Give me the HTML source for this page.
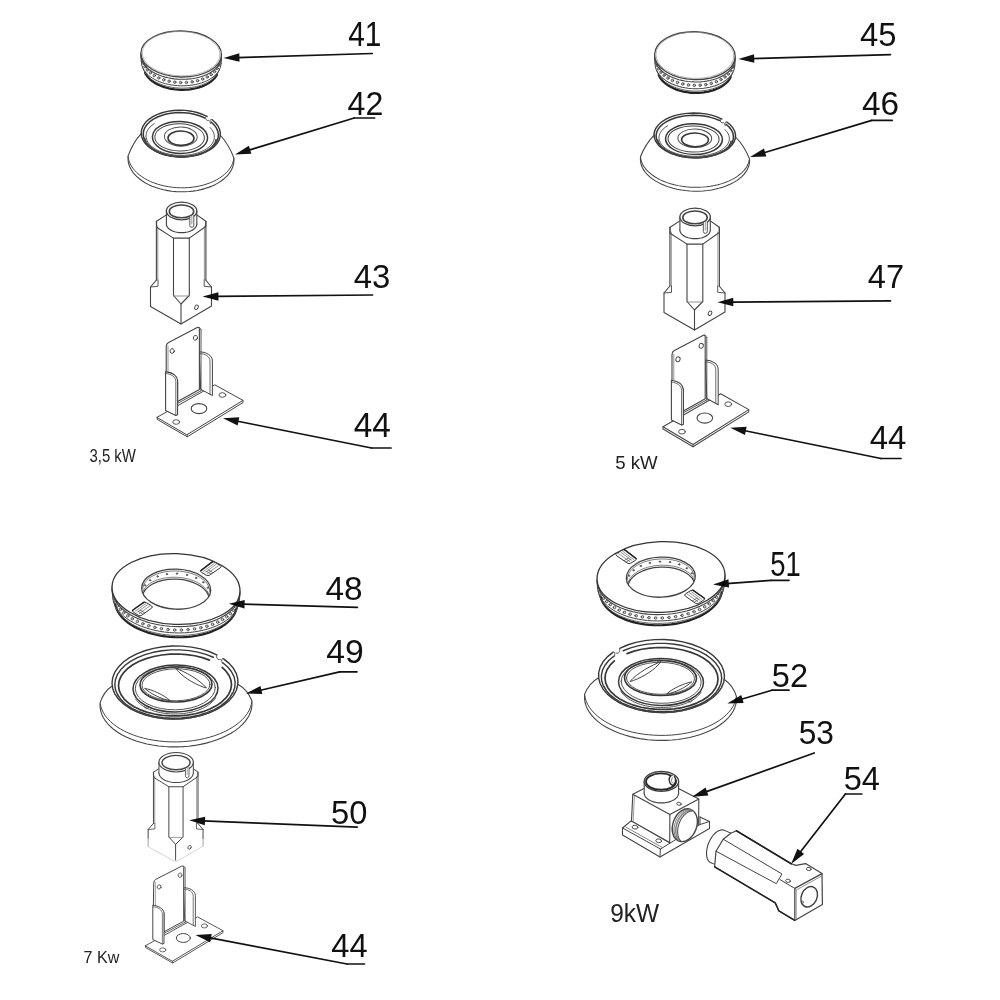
<!DOCTYPE html>
<html><head><meta charset="utf-8"><title>Burner parts 41-54</title>
<style>
html,body{margin:0;padding:0;background:#fff;}
body{width:1000px;height:1000px;overflow:hidden;}
svg{display:block;font-family:"Liberation Sans",sans-serif;}
</style></head><body>
<svg width="1000" height="1000" viewBox="0 0 1000 1000" stroke-linecap="round" stroke-linejoin="round">
<rect width="1000" height="1000" fill="#fff"/>
<g id="parts" style="filter:blur(0.45px)">
<path d="M217.07,74.59 L216.3,75.94 L215.37,77.25 L214.31,78.53 L213.1,79.76 L211.76,80.94 L210.3,82.06 L208.71,83.12 L207.01,84.11 L205.2,85.04 L203.29,85.89 L201.29,86.67 L199.21,87.37 L197.05,87.98 L194.82,88.51 L192.54,88.95 L190.21,89.3 L187.84,89.56 L185.45,89.73 L183.04,89.81 L180.62,89.79 L178.2,89.68 L175.79,89.48 L173.41,89.19 L171.06,88.8 L168.75,88.33 L166.5,87.77 L164.3,87.12 L162.18,86.4 L160.13,85.59 L158.17,84.71 L156.31,83.76 L154.55,82.74 L152.91,81.66 L151.38,80.51 L149.98,79.32 L148.7,78.07 L147.56,76.78 L146.56,75.45 L145.71,74.09 L145,72.7" fill="none" stroke="#222" stroke-width="2.2" />
<path d="M219,70.42 L218.4,71.94 L217.62,73.44 L216.66,74.9 L215.53,76.31 L214.23,77.67 L212.78,78.97 L211.16,80.2 L209.41,81.37 L207.51,82.45 L205.49,83.45 L203.34,84.37 L201.09,85.19 L198.75,85.92 L196.31,86.55 L193.81,87.07 L191.24,87.49 L188.62,87.81 L185.97,88.01 L183.29,88.11 L180.61,88.09 L177.93,87.97 L175.26,87.73 L172.62,87.39 L170.02,86.94 L167.48,86.39 L165.01,85.73 L162.61,84.97 L160.3,84.13 L158.1,83.19 L156.01,82.16 L154.04,81.05 L152.2,79.87 L150.51,78.62 L148.96,77.3 L147.57,75.92 L146.35,74.5 L145.29,73.03 L144.41,71.52 L143.71,69.99 L143.2,68.43" fill="none" stroke="#555" stroke-width="0.9" />
<path d="M220.99,63.64 L220.82,65.46 L220.4,67.26 L219.75,69.03 L218.85,70.76 L217.73,72.44 L216.37,74.06 L214.81,75.61 L213.03,77.07 L211.06,78.45 L208.9,79.74 L206.58,80.91 L204.09,81.98 L201.47,82.92 L198.72,83.74 L195.86,84.43 L192.92,84.98 L189.9,85.39 L186.82,85.67 L183.72,85.8 L180.59,85.79 L177.47,85.64 L174.38,85.34 L171.32,84.91 L168.33,84.34 L165.41,83.63 L162.6,82.79 L159.89,81.83 L157.32,80.75 L154.9,79.56 L152.64,78.26 L150.55,76.87 L148.66,75.39 L146.96,73.83 L145.47,72.2 L144.21,70.51 L143.17,68.78 L142.37,67 L141.81,65.2 L141.49,63.38 L141.41,61.56" fill="none" stroke="#444" stroke-width="1" />
<ellipse cx="218.82" cy="65.13" rx="1.25" ry="1.25" fill="#bbb" stroke="#444" stroke-width="0.8"/>
<ellipse cx="217.09" cy="68.47" rx="1.25" ry="1.25" fill="#bbb" stroke="#444" stroke-width="0.8"/>
<ellipse cx="214.54" cy="71.59" rx="1.25" ry="1.25" fill="#bbb" stroke="#444" stroke-width="0.8"/>
<ellipse cx="211.23" cy="74.44" rx="1.25" ry="1.25" fill="#bbb" stroke="#444" stroke-width="0.8"/>
<ellipse cx="207.24" cy="76.94" rx="1.25" ry="1.25" fill="#bbb" stroke="#444" stroke-width="0.8"/>
<ellipse cx="202.65" cy="79.03" rx="1.25" ry="1.25" fill="#bbb" stroke="#444" stroke-width="0.8"/>
<ellipse cx="197.57" cy="80.68" rx="1.25" ry="1.25" fill="#bbb" stroke="#444" stroke-width="0.8"/>
<ellipse cx="192.11" cy="81.84" rx="1.25" ry="1.25" fill="#bbb" stroke="#444" stroke-width="0.8"/>
<ellipse cx="186.41" cy="82.48" rx="1.25" ry="1.25" fill="#bbb" stroke="#444" stroke-width="0.8"/>
<ellipse cx="180.59" cy="82.59" rx="1.25" ry="1.25" fill="#bbb" stroke="#444" stroke-width="0.8"/>
<ellipse cx="174.78" cy="82.17" rx="1.25" ry="1.25" fill="#bbb" stroke="#444" stroke-width="0.8"/>
<ellipse cx="169.12" cy="81.23" rx="1.25" ry="1.25" fill="#bbb" stroke="#444" stroke-width="0.8"/>
<ellipse cx="163.74" cy="79.79" rx="1.25" ry="1.25" fill="#bbb" stroke="#444" stroke-width="0.8"/>
<ellipse cx="158.75" cy="77.88" rx="1.25" ry="1.25" fill="#bbb" stroke="#444" stroke-width="0.8"/>
<ellipse cx="154.28" cy="75.55" rx="1.25" ry="1.25" fill="#bbb" stroke="#444" stroke-width="0.8"/>
<ellipse cx="150.42" cy="72.84" rx="1.25" ry="1.25" fill="#bbb" stroke="#444" stroke-width="0.8"/>
<ellipse cx="147.26" cy="69.83" rx="1.25" ry="1.25" fill="#bbb" stroke="#444" stroke-width="0.8"/>
<ellipse cx="144.88" cy="66.58" rx="1.25" ry="1.25" fill="#bbb" stroke="#444" stroke-width="0.8"/>
<ellipse cx="143.33" cy="63.15" rx="1.25" ry="1.25" fill="#bbb" stroke="#444" stroke-width="0.8"/>
<line x1="140.91" y1="52.95" x2="141.31" y2="61.55" stroke="#444" stroke-width="1.1"/>
<line x1="221.49" y1="55.05" x2="221.09" y2="63.65" stroke="#444" stroke-width="1.1"/>
<path d="M221.49,57.05 L221.31,58.88 L220.89,60.69 L220.23,62.46 L219.33,64.2 L218.19,65.89 L216.82,67.51 L215.23,69.07 L213.43,70.54 L211.44,71.93 L209.26,73.22 L206.9,74.4 L204.39,75.46 L201.73,76.41 L198.95,77.23 L196.05,77.92 L193.07,78.48 L190.01,78.89 L186.9,79.17 L183.75,79.3 L180.59,79.29 L177.43,79.14 L174.3,78.84 L171.2,78.4 L168.17,77.83 L165.22,77.12 L162.37,76.27 L159.63,75.31 L157.03,74.22 L154.57,73.03 L152.28,71.72 L150.17,70.32 L148.25,68.84 L146.53,67.27 L145.03,65.63 L143.75,63.94 L142.7,62.19 L141.88,60.41 L141.31,58.6 L140.99,56.78 L140.91,54.95" fill="none" stroke="#444" stroke-width="1.1" />
<ellipse cx="181.2" cy="54" rx="40.3" ry="23" fill="#fff" stroke="#444" stroke-width="1.3" transform="rotate(1.5 181.2 54)"/>
<ellipse cx="181.2" cy="53.7" rx="39" ry="22.2" fill="none" stroke="#999" stroke-width="0.7" transform="rotate(1.5 181.2 53.7)"/>
<path d="M233.98,159.17 L233.9,161.79 L233.48,164.39 L232.73,166.95 L231.64,169.47 L230.22,171.92 L228.49,174.28 L226.45,176.55 L224.12,178.71 L221.51,180.75 L218.64,182.64 L215.53,184.38 L212.19,185.96 L208.66,187.37 L204.94,188.6 L201.08,189.64 L197.08,190.48 L192.98,191.12 L188.8,191.55 L184.57,191.78 L180.32,191.79 L176.07,191.6 L171.85,191.2 L167.7,190.59 L163.63,189.78 L159.67,188.77 L155.85,187.57 L152.19,186.19 L148.71,184.63 L145.45,182.91 L142.41,181.04 L139.62,179.03 L137.1,176.89 L134.86,174.64 L132.92,172.28 L131.29,169.84 L129.97,167.34 L128.99,164.78 L128.34,162.18 L128.04,159.57 L128.07,156.95" fill="none" stroke="#444" stroke-width="1.1" />
<path d="M233.81,158.58 L233.33,161 L232.56,163.39 L231.5,165.74 L230.16,168.02 L228.53,170.23 L226.64,172.36 L224.49,174.39 L222.1,176.31 L219.48,178.12 L216.64,179.79 L213.6,181.33 L210.37,182.72 L206.98,183.95 L203.45,185.03 L199.79,185.93 L196.02,186.66 L192.16,187.22 L188.25,187.59 L184.29,187.78 L180.32,187.79 L176.35,187.62 L172.4,187.26 L168.5,186.72 L164.68,186.01 L160.94,185.12 L157.32,184.06 L153.84,182.84 L150.5,181.47 L147.34,179.94 L144.36,178.28 L141.6,176.49 L139.05,174.58 L136.74,172.55 L134.68,170.43 L132.88,168.23 L131.35,165.95 L130.1,163.61 L129.14,161.23 L128.47,158.81 L128.09,156.37" fill="none" stroke="#444" stroke-width="1" />
<path d="M141.22,133.59 Q132.81,142.64 128.01,156.09" fill="none" stroke="#444" stroke-width="1.1" />
<path d="M220.35,135.25 Q228.97,144.58 233.99,158.31" fill="none" stroke="#444" stroke-width="1.1" />
<path d="M211.88,119.52 L215.25,122.53 L217.82,125.8 L219.52,129.25 L220.33,132.8 L220.21,136.36 L219.18,139.87 L217.26,143.23 L214.48,146.36 L210.93,149.2 L206.67,151.67 L201.81,153.72 L196.46,155.31 L190.74,156.39 L184.79,156.94 L178.76,156.94 L172.76,156.41 L166.96,155.34 L161.48,153.76 L156.45,151.72 L151.98,149.25 L148.19,146.42 L145.15,143.3 L142.94,139.94 L141.62,136.44 L141.21,132.87 L141.72,129.32 L143.13,125.87 L145.43,122.6 L148.55,119.58 L152.42,116.89 L156.95,114.59 L162.03,112.74 L167.56,111.36 L173.39,110.51 L179.39,110.19 L185.43,110.42 L191.35,111.19 L197.04,112.48 L202.34,114.26 L207.14,116.49" fill="none" stroke="#383838" stroke-width="1.4" />
<path d="M211.1,121.99 L214.1,124.85 L216.35,127.93 L217.78,131.16 L218.38,134.47 L218.12,137.78 L217.01,141.02 L215.08,144.11 L212.36,146.99 L208.93,149.58 L204.86,151.84 L200.25,153.7 L195.19,155.13 L189.8,156.09 L184.21,156.56 L178.54,156.53 L172.92,156.01 L167.48,154.99 L162.34,153.51 L157.63,151.61 L153.44,149.31 L149.87,146.68 L147.01,143.78 L144.92,140.67 L143.64,137.42 L143.21,134.1 L143.63,130.8 L144.9,127.58 L146.98,124.52 L149.84,121.69 L153.4,119.16 L157.58,116.98 L162.29,115.19 L167.42,113.85 L172.86,112.98 L178.47,112.61 L184.14,112.73 L189.74,113.35 L195.13,114.45 L200.19,116.02 L204.82,118" fill="none" stroke="#383838" stroke-width="1.5" />
<path d="M210.01,127.52 L211.66,129.41 L212.93,131.37 L213.81,133.4 L214.3,135.46 L214.38,137.53 L214.05,139.59 L213.32,141.61 L212.19,143.57 L210.69,145.44 L208.82,147.21 L206.62,148.85 L204.1,150.34 L201.29,151.66 L198.24,152.81 L194.97,153.75 L191.52,154.5 L187.94,155.02 L184.27,155.33 L180.55,155.41 L176.82,155.26 L173.14,154.89 L169.54,154.3 L166.06,153.5 L162.76,152.49 L159.66,151.3 L156.81,149.92 L154.23,148.39 L151.96,146.71 L150.03,144.91 L148.46,143.01 L147.26,141.03 L146.46,138.99 L146.05,136.93 L146.06,134.86 L146.47,132.8 L147.28,130.79 L148.48,128.85 L150.05,126.99 L151.99,125.25 L154.26,123.64" fill="none" stroke="#444" stroke-width="0.9" />
<path d="M216.02,139.84 L215.66,141.26 L215.11,142.66 L214.36,144.03 L213.43,145.36 L212.32,146.65 L211.03,147.89 L209.58,149.07 L207.96,150.19 L206.19,151.24 L204.28,152.21 L202.24,153.1 L200.08,153.9 L197.81,154.61 L195.44,155.23 L192.99,155.75 L190.48,156.17 L187.9,156.48 L185.29,156.69 L182.65,156.8 L179.99,156.8 L177.34,156.69 L174.71,156.47 L172.1,156.15 L169.55,155.73 L167.05,155.21 L164.62,154.58 L162.29,153.87 L160.05,153.06 L157.92,152.17 L155.92,151.19 L154.05,150.14 L152.33,149.02 L150.76,147.84 L149.35,146.6 L148.12,145.31 L147.06,143.97 L146.19,142.6 L145.5,141.2 L145.01,139.78 L144.71,138.34" fill="none" stroke="#444" stroke-width="1.7" />
<path d="M205.6,117.2 C205.2,119.4 206.6,121 208.6,120.4" fill="none" stroke="#444" stroke-width="0.9" />
<path d="M210.6,119.6 C209.4,121.2 209.6,122.6 210.6,123.6" fill="none" stroke="#444" stroke-width="0.9" />
<ellipse cx="180" cy="137.4" rx="27.6" ry="16" fill="none" stroke="#383838" stroke-width="1.5" transform="rotate(1.2 180 137.4)"/>
<ellipse cx="179.6" cy="137.4" rx="24.8" ry="13.6" fill="none" stroke="#444" stroke-width="1" transform="rotate(1.2 179.6 137.4)"/>
<ellipse cx="180.8" cy="136.6" rx="16.4" ry="9.6" fill="none" stroke="#555" stroke-width="1" transform="rotate(1.2 180.8 136.6)"/>
<ellipse cx="181" cy="138.2" rx="13" ry="7.2" fill="none" stroke="#383838" stroke-width="1.6" transform="rotate(1.2 181 138.2)"/>
<path d="M156.4,280 L150.5,287 L150.5,306.5 L181,324 L211.5,306 L211.5,287 L205.7,280" fill="none" stroke="#444" stroke-width="1.1" />
<path d="M150.5,287 L158,286.3 L158,280" fill="none" stroke="#444" stroke-width="0.9" />
<path d="M211.5,287 L204.2,286.3 L204.2,280" fill="none" stroke="#444" stroke-width="0.9" />
<line x1="181" y1="304" x2="181" y2="324" stroke="#444" stroke-width="1.1"/>
<ellipse cx="196.5" cy="307.3" rx="1.7" ry="2.3" fill="none" stroke="#444" stroke-width="0.9" transform="rotate(25 196.5 307.3)"/>
<path d="M173.5,238.1 L173.5,295.5 L181,304 L189.3,295.5 L189.3,238.1" fill="none" stroke="#444" stroke-width="1.1" />
<line x1="173.5" y1="296" x2="189.3" y2="296" stroke="#777" stroke-width="0.8"/>
<line x1="156.4" y1="221.3" x2="156.4" y2="280" stroke="#444" stroke-width="1.1"/>
<line x1="157.8" y1="226" x2="157.8" y2="280" stroke="#666" stroke-width="0.7"/>
<line x1="205.9" y1="221.3" x2="205.9" y2="280" stroke="#444" stroke-width="1.1"/>
<line x1="204.4" y1="226" x2="204.4" y2="280" stroke="#666" stroke-width="0.7"/>
<path d="M166.4,214.9 L156.6,221.3 L156.6,227.3 L173.5,238.1 L189.3,238.1 L205.8,226.5 L205.8,221.3 L196.8,214.9" fill="none" stroke="#444" stroke-width="1.1" />
<path d="M196.8,223.9 L196.75,224.59 L196.61,225.28 L196.38,225.95 L196.06,226.62 L195.64,227.27 L195.14,227.9 L194.56,228.5 L193.9,229.07 L193.16,229.62 L192.35,230.12 L191.47,230.59 L190.53,231.02 L189.54,231.4 L188.5,231.74 L187.42,232.03 L186.3,232.27 L185.15,232.46 L183.98,232.59 L182.79,232.67 L181.6,232.7 L180.41,232.67 L179.22,232.59 L178.05,232.46 L176.9,232.27 L175.78,232.03 L174.7,231.74 L173.66,231.4 L172.67,231.02 L171.73,230.59 L170.85,230.12 L170.04,229.62 L169.3,229.07 L168.64,228.5 L168.06,227.9 L167.56,227.27 L167.14,226.62 L166.82,225.95 L166.59,225.28 L166.45,224.59 L166.4,223.9" fill="#fff" stroke="#444" stroke-width="1.2" />
<rect x="166.4" y="211" width="30.4" height="13.1" fill="#fff" stroke="none"/>
<line x1="166.4" y1="211" x2="166.4" y2="223.9" stroke="#444" stroke-width="1.1"/>
<line x1="196.8" y1="211" x2="196.8" y2="223.9" stroke="#444" stroke-width="1.1"/>
<ellipse cx="181.6" cy="211" rx="15.2" ry="8.8" fill="#fff" stroke="#444" stroke-width="1.3"/>
<ellipse cx="181.5" cy="211.4" rx="12.2" ry="6.4" fill="none" stroke="#444" stroke-width="1.6"/>
<path d="M189.81,216.46 L189.81,225.56 A2,2 0 0 0 193.81,225.16 L193.81,215.56" fill="#fff" stroke="#444" stroke-width="0.9" />
<line x1="191.81" y1="216.16" x2="191.81" y2="223.96" stroke="#777" stroke-width="0.7"/>
<path d="M157.2,417.2 L214.8,384.8 L243,400.4 L187.2,434.6 Z" fill="#fff" stroke="#444" stroke-width="1" />
<path d="M157.2,417.2 L157.2,419.4 L187.2,436.8 L243,402.6 L243,400.4" fill="none" stroke="#444" stroke-width="1" />
<line x1="187.2" y1="434.6" x2="187.2" y2="436.8" stroke="#444" stroke-width="0.8"/>
<ellipse cx="199" cy="408.6" rx="7.8" ry="5" fill="none" stroke="#444" stroke-width="1.1"/>
<ellipse cx="222.4" cy="395" rx="3.4" ry="2.3" fill="none" stroke="#444" stroke-width="0.9"/>
<ellipse cx="176.2" cy="422" rx="3.4" ry="2.3" fill="none" stroke="#444" stroke-width="0.9"/>
<path d="M199.6,351.8 C206,352 212.4,355 212.4,361 L212.4,395.6 L201,389.4 Z" fill="#fff" stroke="#444" stroke-width="1" />
<path d="M200.2,353.6 C205,353.8 210,356 210,361.6 L210,394.2" fill="none" stroke="#444" stroke-width="0.8" />
<path d="M166.2,346.5 Q166.2,343.6 168.6,342.4 L197.2,327.6 Q199.4,326.6 199.4,329 L199.4,389.6 L177.6,401.6 L177.6,380 L166.2,372 Z" fill="#fff" stroke="#444" stroke-width="1.1" />
<line x1="201" y1="329.5" x2="201" y2="390.8" stroke="#444" stroke-width="0.9"/>
<line x1="199.4" y1="327.4" x2="201" y2="329.5" stroke="#444" stroke-width="0.8"/>
<line x1="177.6" y1="403.4" x2="201" y2="390.8" stroke="#444" stroke-width="0.9"/>
<line x1="168" y1="346" x2="168" y2="372.6" stroke="#666" stroke-width="0.7"/>
<ellipse cx="195.4" cy="337.8" rx="2.1" ry="2.4" fill="none" stroke="#444" stroke-width="0.9" transform="rotate(20 195.4 337.8)"/>
<ellipse cx="172.2" cy="351" rx="2.1" ry="2.4" fill="none" stroke="#444" stroke-width="0.9" transform="rotate(20 172.2 351)"/>
<path d="M165.6,371.6 C171,372.4 177.6,375 177.6,381 L177.6,414.8 L175.8,415.4 L165.6,410.6 Z" fill="#fff" stroke="#444" stroke-width="1.1" />
<path d="M166,373.4 C171,374 175.8,376.6 175.8,381.6 L175.8,415.4" fill="none" stroke="#444" stroke-width="0.8" />
<g transform="translate(694.9 31.2) scale(1.0000 1.0400) translate(-181.2 -30.5)">
<path d="M217.07,74.59 L216.3,75.94 L215.37,77.25 L214.31,78.53 L213.1,79.76 L211.76,80.94 L210.3,82.06 L208.71,83.12 L207.01,84.11 L205.2,85.04 L203.29,85.89 L201.29,86.67 L199.21,87.37 L197.05,87.98 L194.82,88.51 L192.54,88.95 L190.21,89.3 L187.84,89.56 L185.45,89.73 L183.04,89.81 L180.62,89.79 L178.2,89.68 L175.79,89.48 L173.41,89.19 L171.06,88.8 L168.75,88.33 L166.5,87.77 L164.3,87.12 L162.18,86.4 L160.13,85.59 L158.17,84.71 L156.31,83.76 L154.55,82.74 L152.91,81.66 L151.38,80.51 L149.98,79.32 L148.7,78.07 L147.56,76.78 L146.56,75.45 L145.71,74.09 L145,72.7" fill="none" stroke="#222" stroke-width="2.2" />
<path d="M219,70.42 L218.4,71.94 L217.62,73.44 L216.66,74.9 L215.53,76.31 L214.23,77.67 L212.78,78.97 L211.16,80.2 L209.41,81.37 L207.51,82.45 L205.49,83.45 L203.34,84.37 L201.09,85.19 L198.75,85.92 L196.31,86.55 L193.81,87.07 L191.24,87.49 L188.62,87.81 L185.97,88.01 L183.29,88.11 L180.61,88.09 L177.93,87.97 L175.26,87.73 L172.62,87.39 L170.02,86.94 L167.48,86.39 L165.01,85.73 L162.61,84.97 L160.3,84.13 L158.1,83.19 L156.01,82.16 L154.04,81.05 L152.2,79.87 L150.51,78.62 L148.96,77.3 L147.57,75.92 L146.35,74.5 L145.29,73.03 L144.41,71.52 L143.71,69.99 L143.2,68.43" fill="none" stroke="#555" stroke-width="0.9" />
<path d="M220.99,63.64 L220.82,65.46 L220.4,67.26 L219.75,69.03 L218.85,70.76 L217.73,72.44 L216.37,74.06 L214.81,75.61 L213.03,77.07 L211.06,78.45 L208.9,79.74 L206.58,80.91 L204.09,81.98 L201.47,82.92 L198.72,83.74 L195.86,84.43 L192.92,84.98 L189.9,85.39 L186.82,85.67 L183.72,85.8 L180.59,85.79 L177.47,85.64 L174.38,85.34 L171.32,84.91 L168.33,84.34 L165.41,83.63 L162.6,82.79 L159.89,81.83 L157.32,80.75 L154.9,79.56 L152.64,78.26 L150.55,76.87 L148.66,75.39 L146.96,73.83 L145.47,72.2 L144.21,70.51 L143.17,68.78 L142.37,67 L141.81,65.2 L141.49,63.38 L141.41,61.56" fill="none" stroke="#444" stroke-width="1" />
<ellipse cx="218.82" cy="65.13" rx="1.25" ry="1.25" fill="#bbb" stroke="#444" stroke-width="0.8"/>
<ellipse cx="217.09" cy="68.47" rx="1.25" ry="1.25" fill="#bbb" stroke="#444" stroke-width="0.8"/>
<ellipse cx="214.54" cy="71.59" rx="1.25" ry="1.25" fill="#bbb" stroke="#444" stroke-width="0.8"/>
<ellipse cx="211.23" cy="74.44" rx="1.25" ry="1.25" fill="#bbb" stroke="#444" stroke-width="0.8"/>
<ellipse cx="207.24" cy="76.94" rx="1.25" ry="1.25" fill="#bbb" stroke="#444" stroke-width="0.8"/>
<ellipse cx="202.65" cy="79.03" rx="1.25" ry="1.25" fill="#bbb" stroke="#444" stroke-width="0.8"/>
<ellipse cx="197.57" cy="80.68" rx="1.25" ry="1.25" fill="#bbb" stroke="#444" stroke-width="0.8"/>
<ellipse cx="192.11" cy="81.84" rx="1.25" ry="1.25" fill="#bbb" stroke="#444" stroke-width="0.8"/>
<ellipse cx="186.41" cy="82.48" rx="1.25" ry="1.25" fill="#bbb" stroke="#444" stroke-width="0.8"/>
<ellipse cx="180.59" cy="82.59" rx="1.25" ry="1.25" fill="#bbb" stroke="#444" stroke-width="0.8"/>
<ellipse cx="174.78" cy="82.17" rx="1.25" ry="1.25" fill="#bbb" stroke="#444" stroke-width="0.8"/>
<ellipse cx="169.12" cy="81.23" rx="1.25" ry="1.25" fill="#bbb" stroke="#444" stroke-width="0.8"/>
<ellipse cx="163.74" cy="79.79" rx="1.25" ry="1.25" fill="#bbb" stroke="#444" stroke-width="0.8"/>
<ellipse cx="158.75" cy="77.88" rx="1.25" ry="1.25" fill="#bbb" stroke="#444" stroke-width="0.8"/>
<ellipse cx="154.28" cy="75.55" rx="1.25" ry="1.25" fill="#bbb" stroke="#444" stroke-width="0.8"/>
<ellipse cx="150.42" cy="72.84" rx="1.25" ry="1.25" fill="#bbb" stroke="#444" stroke-width="0.8"/>
<ellipse cx="147.26" cy="69.83" rx="1.25" ry="1.25" fill="#bbb" stroke="#444" stroke-width="0.8"/>
<ellipse cx="144.88" cy="66.58" rx="1.25" ry="1.25" fill="#bbb" stroke="#444" stroke-width="0.8"/>
<ellipse cx="143.33" cy="63.15" rx="1.25" ry="1.25" fill="#bbb" stroke="#444" stroke-width="0.8"/>
<line x1="140.91" y1="52.95" x2="141.31" y2="61.55" stroke="#444" stroke-width="1.1"/>
<line x1="221.49" y1="55.05" x2="221.09" y2="63.65" stroke="#444" stroke-width="1.1"/>
<path d="M221.49,57.05 L221.31,58.88 L220.89,60.69 L220.23,62.46 L219.33,64.2 L218.19,65.89 L216.82,67.51 L215.23,69.07 L213.43,70.54 L211.44,71.93 L209.26,73.22 L206.9,74.4 L204.39,75.46 L201.73,76.41 L198.95,77.23 L196.05,77.92 L193.07,78.48 L190.01,78.89 L186.9,79.17 L183.75,79.3 L180.59,79.29 L177.43,79.14 L174.3,78.84 L171.2,78.4 L168.17,77.83 L165.22,77.12 L162.37,76.27 L159.63,75.31 L157.03,74.22 L154.57,73.03 L152.28,71.72 L150.17,70.32 L148.25,68.84 L146.53,67.27 L145.03,65.63 L143.75,63.94 L142.7,62.19 L141.88,60.41 L141.31,58.6 L140.99,56.78 L140.91,54.95" fill="none" stroke="#444" stroke-width="1.1" />
<ellipse cx="181.2" cy="54" rx="40.3" ry="23" fill="#fff" stroke="#444" stroke-width="1.3" transform="rotate(1.5 181.2 54)"/>
<ellipse cx="181.2" cy="53.7" rx="39" ry="22.2" fill="none" stroke="#999" stroke-width="0.7" transform="rotate(1.5 181.2 53.7)"/>
</g>
<g transform="translate(695 113) scale(1.0300 0.9580) translate(-181 -110.2)">
<path d="M233.98,159.17 L233.9,161.79 L233.48,164.39 L232.73,166.95 L231.64,169.47 L230.22,171.92 L228.49,174.28 L226.45,176.55 L224.12,178.71 L221.51,180.75 L218.64,182.64 L215.53,184.38 L212.19,185.96 L208.66,187.37 L204.94,188.6 L201.08,189.64 L197.08,190.48 L192.98,191.12 L188.8,191.55 L184.57,191.78 L180.32,191.79 L176.07,191.6 L171.85,191.2 L167.7,190.59 L163.63,189.78 L159.67,188.77 L155.85,187.57 L152.19,186.19 L148.71,184.63 L145.45,182.91 L142.41,181.04 L139.62,179.03 L137.1,176.89 L134.86,174.64 L132.92,172.28 L131.29,169.84 L129.97,167.34 L128.99,164.78 L128.34,162.18 L128.04,159.57 L128.07,156.95" fill="none" stroke="#444" stroke-width="1.1" />
<path d="M233.81,158.58 L233.33,161 L232.56,163.39 L231.5,165.74 L230.16,168.02 L228.53,170.23 L226.64,172.36 L224.49,174.39 L222.1,176.31 L219.48,178.12 L216.64,179.79 L213.6,181.33 L210.37,182.72 L206.98,183.95 L203.45,185.03 L199.79,185.93 L196.02,186.66 L192.16,187.22 L188.25,187.59 L184.29,187.78 L180.32,187.79 L176.35,187.62 L172.4,187.26 L168.5,186.72 L164.68,186.01 L160.94,185.12 L157.32,184.06 L153.84,182.84 L150.5,181.47 L147.34,179.94 L144.36,178.28 L141.6,176.49 L139.05,174.58 L136.74,172.55 L134.68,170.43 L132.88,168.23 L131.35,165.95 L130.1,163.61 L129.14,161.23 L128.47,158.81 L128.09,156.37" fill="none" stroke="#444" stroke-width="1" />
<path d="M141.22,133.59 Q132.81,142.64 128.01,156.09" fill="none" stroke="#444" stroke-width="1.1" />
<path d="M220.35,135.25 Q228.97,144.58 233.99,158.31" fill="none" stroke="#444" stroke-width="1.1" />
<path d="M211.88,119.52 L215.25,122.53 L217.82,125.8 L219.52,129.25 L220.33,132.8 L220.21,136.36 L219.18,139.87 L217.26,143.23 L214.48,146.36 L210.93,149.2 L206.67,151.67 L201.81,153.72 L196.46,155.31 L190.74,156.39 L184.79,156.94 L178.76,156.94 L172.76,156.41 L166.96,155.34 L161.48,153.76 L156.45,151.72 L151.98,149.25 L148.19,146.42 L145.15,143.3 L142.94,139.94 L141.62,136.44 L141.21,132.87 L141.72,129.32 L143.13,125.87 L145.43,122.6 L148.55,119.58 L152.42,116.89 L156.95,114.59 L162.03,112.74 L167.56,111.36 L173.39,110.51 L179.39,110.19 L185.43,110.42 L191.35,111.19 L197.04,112.48 L202.34,114.26 L207.14,116.49" fill="none" stroke="#383838" stroke-width="1.4" />
<path d="M211.1,121.99 L214.1,124.85 L216.35,127.93 L217.78,131.16 L218.38,134.47 L218.12,137.78 L217.01,141.02 L215.08,144.11 L212.36,146.99 L208.93,149.58 L204.86,151.84 L200.25,153.7 L195.19,155.13 L189.8,156.09 L184.21,156.56 L178.54,156.53 L172.92,156.01 L167.48,154.99 L162.34,153.51 L157.63,151.61 L153.44,149.31 L149.87,146.68 L147.01,143.78 L144.92,140.67 L143.64,137.42 L143.21,134.1 L143.63,130.8 L144.9,127.58 L146.98,124.52 L149.84,121.69 L153.4,119.16 L157.58,116.98 L162.29,115.19 L167.42,113.85 L172.86,112.98 L178.47,112.61 L184.14,112.73 L189.74,113.35 L195.13,114.45 L200.19,116.02 L204.82,118" fill="none" stroke="#383838" stroke-width="1.5" />
<path d="M210.01,127.52 L211.66,129.41 L212.93,131.37 L213.81,133.4 L214.3,135.46 L214.38,137.53 L214.05,139.59 L213.32,141.61 L212.19,143.57 L210.69,145.44 L208.82,147.21 L206.62,148.85 L204.1,150.34 L201.29,151.66 L198.24,152.81 L194.97,153.75 L191.52,154.5 L187.94,155.02 L184.27,155.33 L180.55,155.41 L176.82,155.26 L173.14,154.89 L169.54,154.3 L166.06,153.5 L162.76,152.49 L159.66,151.3 L156.81,149.92 L154.23,148.39 L151.96,146.71 L150.03,144.91 L148.46,143.01 L147.26,141.03 L146.46,138.99 L146.05,136.93 L146.06,134.86 L146.47,132.8 L147.28,130.79 L148.48,128.85 L150.05,126.99 L151.99,125.25 L154.26,123.64" fill="none" stroke="#444" stroke-width="0.9" />
<path d="M216.02,139.84 L215.66,141.26 L215.11,142.66 L214.36,144.03 L213.43,145.36 L212.32,146.65 L211.03,147.89 L209.58,149.07 L207.96,150.19 L206.19,151.24 L204.28,152.21 L202.24,153.1 L200.08,153.9 L197.81,154.61 L195.44,155.23 L192.99,155.75 L190.48,156.17 L187.9,156.48 L185.29,156.69 L182.65,156.8 L179.99,156.8 L177.34,156.69 L174.71,156.47 L172.1,156.15 L169.55,155.73 L167.05,155.21 L164.62,154.58 L162.29,153.87 L160.05,153.06 L157.92,152.17 L155.92,151.19 L154.05,150.14 L152.33,149.02 L150.76,147.84 L149.35,146.6 L148.12,145.31 L147.06,143.97 L146.19,142.6 L145.5,141.2 L145.01,139.78 L144.71,138.34" fill="none" stroke="#444" stroke-width="1.7" />
<path d="M205.6,117.2 C205.2,119.4 206.6,121 208.6,120.4" fill="none" stroke="#444" stroke-width="0.9" />
<path d="M210.6,119.6 C209.4,121.2 209.6,122.6 210.6,123.6" fill="none" stroke="#444" stroke-width="0.9" />
<ellipse cx="180" cy="137.4" rx="27.6" ry="16" fill="none" stroke="#383838" stroke-width="1.5" transform="rotate(1.2 180 137.4)"/>
<ellipse cx="179.6" cy="137.4" rx="24.8" ry="13.6" fill="none" stroke="#444" stroke-width="1" transform="rotate(1.2 179.6 137.4)"/>
<ellipse cx="180.8" cy="136.6" rx="16.4" ry="9.6" fill="none" stroke="#555" stroke-width="1" transform="rotate(1.2 180.8 136.6)"/>
<ellipse cx="181" cy="138.2" rx="13" ry="7.2" fill="none" stroke="#383838" stroke-width="1.6" transform="rotate(1.2 181 138.2)"/>
</g>
<g transform="translate(513.5 6) scale(1.0000 1.0000) translate(0 0)">
<path d="M156.4,280 L150.5,287 L150.5,306.5 L181,324 L211.5,306 L211.5,287 L205.7,280" fill="none" stroke="#444" stroke-width="1.1" />
<path d="M150.5,287 L158,286.3 L158,280" fill="none" stroke="#444" stroke-width="0.9" />
<path d="M211.5,287 L204.2,286.3 L204.2,280" fill="none" stroke="#444" stroke-width="0.9" />
<line x1="181" y1="304" x2="181" y2="324" stroke="#444" stroke-width="1.1"/>
<ellipse cx="196.5" cy="307.3" rx="1.7" ry="2.3" fill="none" stroke="#444" stroke-width="0.9" transform="rotate(25 196.5 307.3)"/>
<path d="M173.5,238.1 L173.5,295.5 L181,304 L189.3,295.5 L189.3,238.1" fill="none" stroke="#444" stroke-width="1.1" />
<line x1="173.5" y1="296" x2="189.3" y2="296" stroke="#777" stroke-width="0.8"/>
<line x1="156.4" y1="221.3" x2="156.4" y2="280" stroke="#444" stroke-width="1.1"/>
<line x1="157.8" y1="226" x2="157.8" y2="280" stroke="#666" stroke-width="0.7"/>
<line x1="205.9" y1="221.3" x2="205.9" y2="280" stroke="#444" stroke-width="1.1"/>
<line x1="204.4" y1="226" x2="204.4" y2="280" stroke="#666" stroke-width="0.7"/>
<path d="M166.4,214.9 L156.6,221.3 L156.6,227.3 L173.5,238.1 L189.3,238.1 L205.8,226.5 L205.8,221.3 L196.8,214.9" fill="none" stroke="#444" stroke-width="1.1" />
<path d="M196.8,223.9 L196.75,224.59 L196.61,225.28 L196.38,225.95 L196.06,226.62 L195.64,227.27 L195.14,227.9 L194.56,228.5 L193.9,229.07 L193.16,229.62 L192.35,230.12 L191.47,230.59 L190.53,231.02 L189.54,231.4 L188.5,231.74 L187.42,232.03 L186.3,232.27 L185.15,232.46 L183.98,232.59 L182.79,232.67 L181.6,232.7 L180.41,232.67 L179.22,232.59 L178.05,232.46 L176.9,232.27 L175.78,232.03 L174.7,231.74 L173.66,231.4 L172.67,231.02 L171.73,230.59 L170.85,230.12 L170.04,229.62 L169.3,229.07 L168.64,228.5 L168.06,227.9 L167.56,227.27 L167.14,226.62 L166.82,225.95 L166.59,225.28 L166.45,224.59 L166.4,223.9" fill="#fff" stroke="#444" stroke-width="1.2" />
<rect x="166.4" y="211" width="30.4" height="13.1" fill="#fff" stroke="none"/>
<line x1="166.4" y1="211" x2="166.4" y2="223.9" stroke="#444" stroke-width="1.1"/>
<line x1="196.8" y1="211" x2="196.8" y2="223.9" stroke="#444" stroke-width="1.1"/>
<ellipse cx="181.6" cy="211" rx="15.2" ry="8.8" fill="#fff" stroke="#444" stroke-width="1.3"/>
<ellipse cx="181.5" cy="211.4" rx="12.2" ry="6.4" fill="none" stroke="#444" stroke-width="1.6"/>
<path d="M189.81,216.46 L189.81,225.56 A2,2 0 0 0 193.81,225.16 L193.81,215.56" fill="#fff" stroke="#444" stroke-width="0.9" />
<line x1="191.81" y1="216.16" x2="191.81" y2="223.96" stroke="#777" stroke-width="0.7"/>
</g>
<g transform="translate(693 446.8) scale(1.0000 1.0200) translate(-187.2 -436.8)">
<path d="M157.2,417.2 L214.8,384.8 L243,400.4 L187.2,434.6 Z" fill="#fff" stroke="#444" stroke-width="1" />
<path d="M157.2,417.2 L157.2,419.4 L187.2,436.8 L243,402.6 L243,400.4" fill="none" stroke="#444" stroke-width="1" />
<line x1="187.2" y1="434.6" x2="187.2" y2="436.8" stroke="#444" stroke-width="0.8"/>
<ellipse cx="199" cy="408.6" rx="7.8" ry="5" fill="none" stroke="#444" stroke-width="1.1"/>
<ellipse cx="222.4" cy="395" rx="3.4" ry="2.3" fill="none" stroke="#444" stroke-width="0.9"/>
<ellipse cx="176.2" cy="422" rx="3.4" ry="2.3" fill="none" stroke="#444" stroke-width="0.9"/>
<path d="M199.6,351.8 C206,352 212.4,355 212.4,361 L212.4,395.6 L201,389.4 Z" fill="#fff" stroke="#444" stroke-width="1" />
<path d="M200.2,353.6 C205,353.8 210,356 210,361.6 L210,394.2" fill="none" stroke="#444" stroke-width="0.8" />
<path d="M166.2,346.5 Q166.2,343.6 168.6,342.4 L197.2,327.6 Q199.4,326.6 199.4,329 L199.4,389.6 L177.6,401.6 L177.6,380 L166.2,372 Z" fill="#fff" stroke="#444" stroke-width="1.1" />
<line x1="201" y1="329.5" x2="201" y2="390.8" stroke="#444" stroke-width="0.9"/>
<line x1="199.4" y1="327.4" x2="201" y2="329.5" stroke="#444" stroke-width="0.8"/>
<line x1="177.6" y1="403.4" x2="201" y2="390.8" stroke="#444" stroke-width="0.9"/>
<line x1="168" y1="346" x2="168" y2="372.6" stroke="#666" stroke-width="0.7"/>
<ellipse cx="195.4" cy="337.8" rx="2.1" ry="2.4" fill="none" stroke="#444" stroke-width="0.9" transform="rotate(20 195.4 337.8)"/>
<ellipse cx="172.2" cy="351" rx="2.1" ry="2.4" fill="none" stroke="#444" stroke-width="0.9" transform="rotate(20 172.2 351)"/>
<path d="M165.6,371.6 C171,372.4 177.6,375 177.6,381 L177.6,414.8 L175.8,415.4 L165.6,410.6 Z" fill="#fff" stroke="#444" stroke-width="1.1" />
<path d="M166,373.4 C171,374 175.8,376.6 175.8,381.6 L175.8,415.4" fill="none" stroke="#444" stroke-width="0.8" />
</g>
<path d="M236.48,608.54 L235.76,611.03 L234.71,613.47 L233.35,615.85 L231.68,618.16 L229.71,620.38 L227.45,622.51 L224.92,624.54 L222.12,626.44 L219.08,628.22 L215.8,629.86 L212.31,631.35 L208.63,632.69 L204.77,633.87 L200.75,634.88 L196.6,635.72 L192.35,636.38 L188,636.85 L183.59,637.15 L179.14,637.25 L174.67,637.17 L170.21,636.91 L165.78,636.46 L161.41,635.83 L157.11,635.02 L152.92,634.04 L148.84,632.89 L144.92,631.57 L141.16,630.1 L137.59,628.48 L134.23,626.73 L131.09,624.84 L128.19,622.83 L125.54,620.72 L123.17,618.51 L121.09,616.21 L119.29,613.84 L117.81,611.41 L116.63,608.93 L115.77,606.42 L115.24,603.89" fill="none" stroke="#222" stroke-width="2.2" />
<path d="M238.2,604.62 L237.67,607.25 L236.79,609.84 L235.55,612.37 L233.97,614.84 L232.06,617.22 L229.83,619.5 L227.29,621.68 L224.45,623.73 L221.33,625.65 L217.95,627.42 L214.33,629.03 L210.48,630.49 L206.44,631.76 L202.23,632.86 L197.86,633.77 L193.36,634.49 L188.77,635.01 L184.1,635.33 L179.39,635.46 L174.66,635.37 L169.93,635.09 L165.24,634.61 L160.61,633.93 L156.07,633.06 L151.65,632 L147.36,630.75 L143.24,629.34 L139.31,627.75 L135.59,626.01 L132.1,624.12 L128.87,622.09 L125.91,619.94 L123.23,617.68 L120.86,615.32 L118.81,612.87 L117.09,610.35 L115.71,607.77 L114.67,605.15 L113.99,602.5 L113.66,599.84" fill="none" stroke="#555" stroke-width="0.9" />
<path d="M239.35,600.03 L239.05,602.79 L238.36,605.52 L237.29,608.2 L235.83,610.81 L234.01,613.35 L231.83,615.78 L229.31,618.11 L226.46,620.3 L223.29,622.36 L219.84,624.26 L216.11,626 L212.14,627.57 L207.95,628.95 L203.55,630.13 L198.99,631.12 L194.29,631.9 L189.47,632.47 L184.57,632.82 L179.62,632.96 L174.64,632.87 L169.68,632.57 L164.75,632.06 L159.89,631.33 L155.13,630.4 L150.5,629.26 L146.03,627.92 L141.74,626.4 L137.67,624.71 L133.82,622.84 L130.24,620.82 L126.95,618.66 L123.95,616.36 L121.27,613.96 L118.94,611.45 L116.95,608.85 L115.33,606.19 L114.08,603.47 L113.21,600.71 L112.74,597.94 L112.65,595.17" fill="none" stroke="#444" stroke-width="1" />
<ellipse cx="237.37" cy="603.11" rx="1.3" ry="1.3" fill="#ccc" stroke="#444" stroke-width="0.8"/>
<ellipse cx="235.71" cy="606.75" rx="1.3" ry="1.3" fill="#ccc" stroke="#444" stroke-width="0.8"/>
<ellipse cx="233.36" cy="610.25" rx="1.3" ry="1.3" fill="#ccc" stroke="#444" stroke-width="0.8"/>
<ellipse cx="230.35" cy="613.57" rx="1.3" ry="1.3" fill="#ccc" stroke="#444" stroke-width="0.8"/>
<ellipse cx="226.71" cy="616.67" rx="1.3" ry="1.3" fill="#ccc" stroke="#444" stroke-width="0.8"/>
<ellipse cx="222.49" cy="619.52" rx="1.3" ry="1.3" fill="#ccc" stroke="#444" stroke-width="0.8"/>
<ellipse cx="217.73" cy="622.08" rx="1.3" ry="1.3" fill="#ccc" stroke="#444" stroke-width="0.8"/>
<ellipse cx="212.49" cy="624.32" rx="1.3" ry="1.3" fill="#ccc" stroke="#444" stroke-width="0.8"/>
<ellipse cx="206.83" cy="626.22" rx="1.3" ry="1.3" fill="#ccc" stroke="#444" stroke-width="0.8"/>
<ellipse cx="200.82" cy="627.76" rx="1.3" ry="1.3" fill="#ccc" stroke="#444" stroke-width="0.8"/>
<ellipse cx="194.52" cy="628.91" rx="1.3" ry="1.3" fill="#ccc" stroke="#444" stroke-width="0.8"/>
<ellipse cx="188.01" cy="629.67" rx="1.3" ry="1.3" fill="#ccc" stroke="#444" stroke-width="0.8"/>
<ellipse cx="181.35" cy="630.03" rx="1.3" ry="1.3" fill="#ccc" stroke="#444" stroke-width="0.8"/>
<ellipse cx="174.64" cy="629.97" rx="1.3" ry="1.3" fill="#ccc" stroke="#444" stroke-width="0.8"/>
<ellipse cx="167.94" cy="629.51" rx="1.3" ry="1.3" fill="#ccc" stroke="#444" stroke-width="0.8"/>
<ellipse cx="161.34" cy="628.65" rx="1.3" ry="1.3" fill="#ccc" stroke="#444" stroke-width="0.8"/>
<ellipse cx="154.9" cy="627.39" rx="1.3" ry="1.3" fill="#ccc" stroke="#444" stroke-width="0.8"/>
<ellipse cx="148.71" cy="625.76" rx="1.3" ry="1.3" fill="#ccc" stroke="#444" stroke-width="0.8"/>
<ellipse cx="142.83" cy="623.77" rx="1.3" ry="1.3" fill="#ccc" stroke="#444" stroke-width="0.8"/>
<ellipse cx="137.33" cy="621.44" rx="1.3" ry="1.3" fill="#ccc" stroke="#444" stroke-width="0.8"/>
<ellipse cx="132.28" cy="618.8" rx="1.3" ry="1.3" fill="#ccc" stroke="#444" stroke-width="0.8"/>
<ellipse cx="127.74" cy="615.88" rx="1.3" ry="1.3" fill="#ccc" stroke="#444" stroke-width="0.8"/>
<ellipse cx="123.75" cy="612.72" rx="1.3" ry="1.3" fill="#ccc" stroke="#444" stroke-width="0.8"/>
<ellipse cx="120.36" cy="609.35" rx="1.3" ry="1.3" fill="#ccc" stroke="#444" stroke-width="0.8"/>
<ellipse cx="117.61" cy="605.8" rx="1.3" ry="1.3" fill="#ccc" stroke="#444" stroke-width="0.8"/>
<ellipse cx="115.54" cy="602.13" rx="1.3" ry="1.3" fill="#ccc" stroke="#444" stroke-width="0.8"/>
<ellipse cx="114.16" cy="598.38" rx="1.3" ry="1.3" fill="#ccc" stroke="#444" stroke-width="0.8"/>
<line x1="112.05" y1="586.54" x2="112.55" y2="595.14" stroke="#444" stroke-width="1.1"/>
<line x1="239.95" y1="591.46" x2="239.45" y2="600.06" stroke="#444" stroke-width="1.1"/>
<path d="M239.95,593.66 L239.65,596.42 L238.95,599.16 L237.87,601.85 L236.4,604.47 L234.56,607.01 L232.37,609.45 L229.82,611.78 L226.94,613.98 L223.75,616.04 L220.26,617.95 L216.5,619.69 L212.49,621.26 L208.26,622.64 L203.82,623.83 L199.22,624.82 L194.47,625.6 L189.61,626.17 L184.66,626.52 L179.66,626.66 L174.64,626.57 L169.63,626.27 L164.65,625.75 L159.75,625.02 L154.95,624.08 L150.27,622.94 L145.76,621.6 L141.43,620.08 L137.31,618.37 L133.43,616.5 L129.82,614.48 L126.49,612.31 L123.46,610 L120.76,607.59 L118.4,605.07 L116.4,602.47 L114.76,599.79 L113.5,597.07 L112.62,594.31 L112.14,591.53 L112.05,588.74" fill="none" stroke="#444" stroke-width="1.1" />
<ellipse cx="176" cy="589" rx="64" ry="35.4" fill="#fff" stroke="#333" stroke-width="1.3" transform="rotate(2.2 176 589)"/>
<clipPath id="clipA"><ellipse cx="176.2" cy="589.2" rx="34.5" ry="20" transform="rotate(2.2 176.2 589.2)"/></clipPath>
<g clip-path="url(#clipA)">
<ellipse cx="175.7" cy="598.7" rx="33.5" ry="19.6" fill="none" stroke="#444" stroke-width="1.2" transform="rotate(2.2 175.7 598.7)"/>
<ellipse cx="175.7" cy="596.8" rx="33.8" ry="19.6" fill="none" stroke="#666" stroke-width="0.8" transform="rotate(2.2 175.7 596.8)"/>
<ellipse cx="145" cy="585.29" rx="0.8" ry="0.8" fill="#777" stroke="#444" stroke-width="0.6"/>
<ellipse cx="150.1" cy="580.26" rx="0.8" ry="0.8" fill="#777" stroke="#444" stroke-width="0.6"/>
<ellipse cx="157.62" cy="576.42" rx="0.8" ry="0.8" fill="#777" stroke="#444" stroke-width="0.6"/>
<ellipse cx="166.85" cy="574.13" rx="0.8" ry="0.8" fill="#777" stroke="#444" stroke-width="0.6"/>
<ellipse cx="176.95" cy="573.61" rx="0.8" ry="0.8" fill="#777" stroke="#444" stroke-width="0.6"/>
<ellipse cx="186.98" cy="574.91" rx="0.8" ry="0.8" fill="#777" stroke="#444" stroke-width="0.6"/>
<ellipse cx="196.02" cy="577.89" rx="0.8" ry="0.8" fill="#777" stroke="#444" stroke-width="0.6"/>
<ellipse cx="203.22" cy="582.3" rx="0.8" ry="0.8" fill="#777" stroke="#444" stroke-width="0.6"/>
<ellipse cx="207.91" cy="587.71" rx="0.8" ry="0.8" fill="#777" stroke="#444" stroke-width="0.6"/>
</g>
<ellipse cx="176.2" cy="589.2" rx="34.5" ry="20" fill="none" stroke="#444" stroke-width="1.3" transform="rotate(2.2 176.2 589.2)"/>
<path d="M142.82,588.92 L142.99,587.42 L143.35,585.93 L143.92,584.47 L144.69,583.05 L145.65,581.67 L146.8,580.35 L148.13,579.08 L149.63,577.89 L151.3,576.76 L153.12,575.73 L155.08,574.78 L157.18,573.92 L159.39,573.17 L161.7,572.52 L164.11,571.98 L166.59,571.56 L169.13,571.24 L171.71,571.05 L174.32,570.97 L176.94,571.01 L179.55,571.17 L182.15,571.45 L184.71,571.84 L187.21,572.35 L189.65,572.97 L192.01,573.69 L194.27,574.51 L196.41,575.43 L198.44,576.44 L200.32,577.54 L202.06,578.71 L203.63,579.96 L205.04,581.27 L206.27,582.63 L207.32,584.04 L208.17,585.49 L208.83,586.97 L209.28,588.47 L209.53,589.97 L209.58,591.48" fill="none" stroke="#555" stroke-width="0.8" />
<path d="M201.41,570.18 Q199.8,571.4 201.44,572.36 L206.36,575.24 Q208,576.2 209.68,575.05 L220.32,567.75 Q222,566.6 220.24,565.52 L214.96,562.28 Q213.2,561.2 211.59,562.42 Z" fill="#fff" stroke="#333" stroke-width="1" />
<line x1="200.87" y1="570.58" x2="212.53" y2="561.71" stroke="#222" stroke-width="1.5"/>
<line x1="203.48" y1="571.39" x2="214.45" y2="563.25" stroke="#666" stroke-width="0.7"/>
<line x1="205.13" y1="572.37" x2="216.2" y2="564.33" stroke="#666" stroke-width="0.7"/>
<line x1="207.2" y1="573.59" x2="218.39" y2="565.66" stroke="#666" stroke-width="0.7"/>
<line x1="206.5" y1="571.38" x2="210.83" y2="573.94" stroke="#555" stroke-width="0.8"/>
<line x1="208.41" y1="569.99" x2="212.79" y2="572.59" stroke="#555" stroke-width="0.8"/>
<path d="M133.1,609.87 Q131.5,611 133.2,612.08 L138.3,615.32 Q140,616.4 141.58,615.27 L151.62,608.13 Q153.2,607 151.52,605.92 L146.48,602.68 Q144.8,601.6 143.2,602.73 Z" fill="#fff" stroke="#333" stroke-width="1" />
<line x1="132.56" y1="610.25" x2="144.14" y2="602.07" stroke="#222" stroke-width="1.5"/>
<line x1="135.22" y1="611.22" x2="145.97" y2="603.61" stroke="#666" stroke-width="0.7"/>
<line x1="136.92" y1="612.3" x2="147.65" y2="604.69" stroke="#666" stroke-width="0.7"/>
<line x1="139.04" y1="613.65" x2="149.75" y2="606.04" stroke="#666" stroke-width="0.7"/>
<line x1="138.24" y1="611.36" x2="142.65" y2="614.17" stroke="#555" stroke-width="0.8"/>
<line x1="140.1" y1="610.05" x2="144.5" y2="612.85" stroke="#555" stroke-width="0.8"/>
<path d="M251.93,701.96 L251.94,705.36 L251.47,708.76 L250.51,712.13 L249.07,715.45 L247.16,718.7 L244.79,721.86 L241.98,724.91 L238.74,727.82 L235.1,730.59 L231.08,733.19 L226.7,735.6 L222,737.81 L217,739.81 L211.73,741.58 L206.24,743.11 L200.55,744.39 L194.7,745.42 L188.73,746.18 L182.68,746.67 L176.59,746.9 L170.5,746.84 L164.43,746.52 L158.45,745.93 L152.57,745.06 L146.85,743.94 L141.32,742.56 L136.01,740.94 L130.95,739.08 L126.19,737 L121.75,734.71 L117.65,732.23 L113.94,729.57 L110.62,726.74 L107.72,723.78 L105.27,720.68 L103.27,717.49 L101.73,714.21 L100.68,710.87 L100.11,707.48 L100.03,704.08" fill="none" stroke="#444" stroke-width="1.1" />
<path d="M251.85,701.4 L251.28,704.57 L250.29,707.71 L248.88,710.81 L247.06,713.84 L244.84,716.79 L242.24,719.65 L239.26,722.39 L235.92,725 L232.25,727.47 L228.26,729.78 L223.98,731.92 L219.42,733.88 L214.62,735.65 L209.61,737.21 L204.4,738.56 L199.04,739.69 L193.54,740.59 L187.95,741.26 L182.29,741.7 L176.59,741.9 L170.89,741.86 L165.22,741.58 L159.61,741.06 L154.09,740.31 L148.7,739.33 L143.46,738.13 L138.4,736.71 L133.56,735.08 L128.95,733.25 L124.61,731.23 L120.55,729.03 L116.81,726.67 L113.41,724.15 L110.35,721.49 L107.67,718.71 L105.36,715.82 L103.46,712.84 L101.97,709.78 L100.89,706.67 L100.23,703.52" fill="none" stroke="#444" stroke-width="1" />
<path d="M112.2,685.92 Q103.5,691.49 100.01,703.06" fill="none" stroke="#444" stroke-width="1.1" />
<path d="M237.88,684.17 Q247.53,689.55 251.99,700.94" fill="none" stroke="#444" stroke-width="1.1" />
<path d="M223.63,658.85 L229.17,663.37 L233.44,668.33 L236.35,673.63 L237.81,679.14 L237.81,684.73 L236.33,690.26 L233.42,695.61 L229.15,700.65 L223.6,705.27 L216.92,709.36 L209.25,712.82 L200.79,715.56 L191.72,717.54 L182.26,718.69 L172.62,719 L163.05,718.45 L153.75,717.06 L144.95,714.86 L136.86,711.91 L129.66,708.26 L123.52,704.01 L118.58,699.26 L114.97,694.12 L112.76,688.7 L112,683.14 L112.73,677.56 L114.91,672.1 L118.49,666.89 L123.4,662.04 L129.52,657.66 L136.7,653.87 L144.78,650.75 L153.57,648.37 L162.86,646.79 L172.43,646.05 L182.06,646.16 L191.53,647.12 L200.61,648.91 L209.09,651.49 L216.77,654.79" fill="none" stroke="#383838" stroke-width="1.4" />
<path d="M222.79,662.75 L227.76,667.03 L231.53,671.71 L234,676.66 L235.13,681.79 L234.87,686.96 L233.25,692.07 L230.3,696.99 L226.08,701.61 L220.69,705.84 L214.26,709.56 L206.93,712.69 L198.86,715.17 L190.25,716.94 L181.3,717.96 L172.2,718.19 L163.16,717.65 L154.39,716.33 L146.1,714.27 L138.46,711.53 L131.67,708.15 L125.86,704.22 L121.18,699.83 L117.73,695.07 L115.59,690.06 L114.81,684.92 L115.4,679.75 L117.36,674.68 L120.64,669.82 L125.17,665.29 L130.83,661.18 L137.5,657.6 L145.03,654.62 L153.25,652.31 L161.97,650.73 L170.98,649.91 L180.08,649.87 L189.07,650.61 L197.74,652.12 L205.89,654.35 L213.33,657.26" fill="none" stroke="#383838" stroke-width="1.4" />
<path d="M222.14,667.46 L226.24,671.44 L229.2,675.72 L230.96,680.21 L231.49,684.81 L230.77,689.4 L228.82,693.91 L225.68,698.21 L221.41,702.22 L216.13,705.85 L209.93,709.03 L202.96,711.67 L195.37,713.72 L187.34,715.13 L179.03,715.88 L170.63,715.95 L162.33,715.34 L154.31,714.05 L146.74,712.12 L139.8,709.59 L133.64,706.52 L128.39,702.98 L124.17,699.03 L121.08,694.78 L119.17,690.31 L118.5,685.72 L119.08,681.12 L120.9,676.6 L123.91,672.27 L128.04,668.22 L133.22,664.54 L139.32,661.31 L146.21,658.61 L153.73,656.49 L161.73,655 L170.01,654.17 L178.41,654.02 L186.73,654.56 L194.8,655.77 L202.42,657.63 L209.44,660.09" fill="none" stroke="#383838" stroke-width="1.7" />
<path d="M232.21,692.58 L231.28,694.75 L230.1,696.87 L228.65,698.96 L226.96,700.98 L225.03,702.94 L222.86,704.82 L220.48,706.62 L217.88,708.32 L215.08,709.92 L212.1,711.42 L208.95,712.8 L205.64,714.06 L202.19,715.19 L198.61,716.19 L194.92,717.05 L191.14,717.78 L187.29,718.35 L183.38,718.78 L179.43,719.07 L175.46,719.2 L171.48,719.18 L167.53,719.01 L163.6,718.68 L159.74,718.22 L155.94,717.6 L152.23,716.84 L148.62,715.94 L145.14,714.9 L141.8,713.74 L138.61,712.45 L135.58,711.03 L132.74,709.51 L130.1,707.88 L127.66,706.15 L125.45,704.33 L123.46,702.42 L121.71,700.45 L120.21,698.41 L118.96,696.31 L117.98,694.17" fill="none" stroke="#444" stroke-width="1" />
<path d="M216.8,655.4 C216,658 217.6,660.4 220.4,659.6" fill="none" stroke="#444" stroke-width="0.9" />
<path d="M222.6,658.4 C221,660.4 221.4,662.4 222.8,663.6" fill="none" stroke="#444" stroke-width="0.9" />
<ellipse cx="175.5" cy="688.5" rx="42.5" ry="23.5" fill="none" stroke="#383838" stroke-width="1.5" transform="rotate(-0.8 175.5 688.5)"/>
<ellipse cx="175.3" cy="688.2" rx="40" ry="21.6" fill="none" stroke="#444" stroke-width="0.9" transform="rotate(-0.8 175.3 688.2)"/>
<path d="M215.55,697.98 L214.6,699.33 L213.51,700.64 L212.28,701.91 L210.91,703.15 L209.41,704.33 L207.79,705.47 L206.04,706.55 L204.18,707.57 L202.21,708.52 L200.14,709.41 L197.98,710.23 L195.74,710.97 L193.42,711.64 L191.04,712.22 L188.59,712.73 L186.1,713.16 L183.57,713.5 L181,713.75 L178.42,713.92 L175.83,714 L173.23,713.99 L170.65,713.89 L168.08,713.71 L165.54,713.44 L163.03,713.09 L160.58,712.65 L158.18,712.13 L155.84,711.53 L153.58,710.85 L151.39,710.09 L149.3,709.26 L147.31,708.36 L145.42,707.39 L143.64,706.36 L141.99,705.28 L140.45,704.13 L139.05,702.94 L137.78,701.7 L136.66,700.41 L135.68,699.09" fill="none" stroke="#444" stroke-width="0.9" />
<ellipse cx="176" cy="684.5" rx="36" ry="17.5" fill="none" stroke="#383838" stroke-width="1.6" transform="rotate(-0.8 176 684.5)"/>
<ellipse cx="176" cy="684.8" rx="34" ry="16" fill="none" stroke="#444" stroke-width="0.9" transform="rotate(-0.8 176 684.8)"/>
<path d="M176,668.5 C184,671 200,680 206.5,688 C198,686 184,678 178.5,671.5 C177,670 176,669 176,668.5 Z" fill="none" stroke="#444" stroke-width="1" />
<path d="M145,688.5 C152,689.5 164,695 170,700.5 C162,699.5 150,693.5 145,688.5 Z" fill="none" stroke="#444" stroke-width="1" />
<ellipse cx="177" cy="667.6" rx="1.6" ry="1.2" fill="none" stroke="#444" stroke-width="0.8"/>
<path d="M144,706.5 L146,708.8 L148.6,707.6" fill="none" stroke="#444" stroke-width="0.8" />
<g transform="translate(175.6 844.4) scale(0.9000 0.8750) translate(-181 -304)">
<path d="M156.4,280 L150.5,287 L150.5,297" fill="none" stroke="#444" stroke-width="1.1" />
<path d="M150.5,297 L150.5,306.5" fill="none" stroke="#999" stroke-width="1" />
<path d="M211.5,297 L211.5,306" fill="none" stroke="#999" stroke-width="1" />
<path d="M150.5,306.5 L181,324 L211.5,306" fill="none" stroke="#d0d0d0" stroke-width="1" />
<path d="M211.5,297 L211.5,287 L205.7,280" fill="none" stroke="#444" stroke-width="1.1" />
<path d="M150.5,287 L158,286.3 L158,280" fill="none" stroke="#444" stroke-width="0.9" />
<path d="M211.5,287 L204.2,286.3 L204.2,280" fill="none" stroke="#444" stroke-width="0.9" />
<line x1="181" y1="304" x2="181" y2="322" stroke="#444" stroke-width="1.1"/>
<ellipse cx="196.5" cy="307.3" rx="1.7" ry="2.3" fill="none" stroke="#444" stroke-width="0.9" transform="rotate(25 196.5 307.3)"/>
<path d="M173.5,238.1 L173.5,295.5 L181,304 L189.3,295.5 L189.3,238.1" fill="none" stroke="#444" stroke-width="1.1" />
<line x1="173.5" y1="296" x2="189.3" y2="296" stroke="#777" stroke-width="0.8"/>
<line x1="156.4" y1="221.3" x2="156.4" y2="280" stroke="#444" stroke-width="1.1"/>
<line x1="157.8" y1="226" x2="157.8" y2="280" stroke="#666" stroke-width="0.7"/>
<line x1="205.9" y1="221.3" x2="205.9" y2="280" stroke="#444" stroke-width="1.1"/>
<line x1="204.4" y1="226" x2="204.4" y2="280" stroke="#666" stroke-width="0.7"/>
<path d="M166.4,214.9 L156.6,221.3 L156.6,227.3 L173.5,238.1 L189.3,238.1 L205.8,226.5 L205.8,221.3 L196.8,214.9" fill="none" stroke="#444" stroke-width="1.1" />
<path d="M200.7,222.2 L200.64,223.07 L200.46,223.94 L200.17,224.79 L199.77,225.63 L199.25,226.45 L198.62,227.24 L197.89,228 L197.05,228.72 L196.12,229.41 L195.11,230.05 L194,230.64 L192.83,231.18 L191.58,231.66 L190.27,232.09 L188.91,232.46 L187.5,232.76 L186.06,232.99 L184.59,233.16 L183.1,233.27 L181.6,233.3 L180.1,233.27 L178.61,233.16 L177.14,232.99 L175.7,232.76 L174.29,232.46 L172.93,232.09 L171.62,231.66 L170.37,231.18 L169.2,230.64 L168.09,230.05 L167.08,229.41 L166.15,228.72 L165.31,228 L164.58,227.24 L163.95,226.45 L163.43,225.63 L163.03,224.79 L162.74,223.94 L162.56,223.07 L162.5,222.2" fill="#fff" stroke="#444" stroke-width="1.2" />
<rect x="162.5" y="210.1" width="38.2" height="12.3" fill="#fff" stroke="none"/>
<line x1="162.5" y1="210.1" x2="162.5" y2="222.2" stroke="#444" stroke-width="1.1"/>
<line x1="200.7" y1="210.1" x2="200.7" y2="222.2" stroke="#444" stroke-width="1.1"/>
<ellipse cx="181.6" cy="210.1" rx="19.1" ry="11.1" fill="#fff" stroke="#444" stroke-width="1.3"/>
<ellipse cx="181.5" cy="210.5" rx="15.6" ry="8.2" fill="none" stroke="#444" stroke-width="1.6"/>
<path d="M191.91,216.98 L191.91,226.08 A2,2 0 0 0 195.91,225.68 L195.91,216.08" fill="#fff" stroke="#444" stroke-width="0.9" />
<line x1="193.91" y1="216.68" x2="193.91" y2="224.48" stroke="#777" stroke-width="0.7"/>
</g>
<g transform="translate(145.6 865.8) scale(0.9020 0.8870) translate(-157.2 -327.2)">
<path d="M157.2,417.2 L214.8,384.8 L243,400.4 L187.2,434.6 Z" fill="#fff" stroke="#444" stroke-width="1" />
<path d="M157.2,417.2 L157.2,419.4 L187.2,436.8 L243,402.6 L243,400.4" fill="none" stroke="#444" stroke-width="1" />
<line x1="187.2" y1="434.6" x2="187.2" y2="436.8" stroke="#444" stroke-width="0.8"/>
<ellipse cx="199" cy="408.6" rx="7.8" ry="5" fill="none" stroke="#444" stroke-width="1.1"/>
<ellipse cx="222.4" cy="395" rx="3.4" ry="2.3" fill="none" stroke="#444" stroke-width="0.9"/>
<ellipse cx="176.2" cy="422" rx="3.4" ry="2.3" fill="none" stroke="#444" stroke-width="0.9"/>
<path d="M199.6,351.8 C206,352 212.4,355 212.4,361 L212.4,395.6 L201,389.4 Z" fill="#fff" stroke="#444" stroke-width="1" />
<path d="M200.2,353.6 C205,353.8 210,356 210,361.6 L210,394.2" fill="none" stroke="#444" stroke-width="0.8" />
<path d="M166.2,346.5 Q166.2,343.6 168.6,342.4 L197.2,327.6 Q199.4,326.6 199.4,329 L199.4,389.6 L177.6,401.6 L177.6,380 L166.2,372 Z" fill="#fff" stroke="#444" stroke-width="1.1" />
<line x1="201" y1="329.5" x2="201" y2="390.8" stroke="#444" stroke-width="0.9"/>
<line x1="199.4" y1="327.4" x2="201" y2="329.5" stroke="#444" stroke-width="0.8"/>
<line x1="177.6" y1="403.4" x2="201" y2="390.8" stroke="#444" stroke-width="0.9"/>
<line x1="168" y1="346" x2="168" y2="372.6" stroke="#666" stroke-width="0.7"/>
<ellipse cx="195.4" cy="337.8" rx="2.1" ry="2.4" fill="none" stroke="#444" stroke-width="0.9" transform="rotate(20 195.4 337.8)"/>
<ellipse cx="172.2" cy="351" rx="2.1" ry="2.4" fill="none" stroke="#444" stroke-width="0.9" transform="rotate(20 172.2 351)"/>
<path d="M165.6,371.6 C171,372.4 177.6,375 177.6,381 L177.6,414.8 L175.8,415.4 L165.6,410.6 Z" fill="#fff" stroke="#444" stroke-width="1.1" />
<path d="M166,373.4 C171,374 175.8,376.6 175.8,381.6 L175.8,415.4" fill="none" stroke="#444" stroke-width="0.8" />
</g>
<g transform="translate(661 577) scale(-1.0000 1.0000) translate(-176 -589)">
<path d="M236.48,608.54 L235.76,611.03 L234.71,613.47 L233.35,615.85 L231.68,618.16 L229.71,620.38 L227.45,622.51 L224.92,624.54 L222.12,626.44 L219.08,628.22 L215.8,629.86 L212.31,631.35 L208.63,632.69 L204.77,633.87 L200.75,634.88 L196.6,635.72 L192.35,636.38 L188,636.85 L183.59,637.15 L179.14,637.25 L174.67,637.17 L170.21,636.91 L165.78,636.46 L161.41,635.83 L157.11,635.02 L152.92,634.04 L148.84,632.89 L144.92,631.57 L141.16,630.1 L137.59,628.48 L134.23,626.73 L131.09,624.84 L128.19,622.83 L125.54,620.72 L123.17,618.51 L121.09,616.21 L119.29,613.84 L117.81,611.41 L116.63,608.93 L115.77,606.42 L115.24,603.89" fill="none" stroke="#222" stroke-width="2.2" />
<path d="M238.2,604.62 L237.67,607.25 L236.79,609.84 L235.55,612.37 L233.97,614.84 L232.06,617.22 L229.83,619.5 L227.29,621.68 L224.45,623.73 L221.33,625.65 L217.95,627.42 L214.33,629.03 L210.48,630.49 L206.44,631.76 L202.23,632.86 L197.86,633.77 L193.36,634.49 L188.77,635.01 L184.1,635.33 L179.39,635.46 L174.66,635.37 L169.93,635.09 L165.24,634.61 L160.61,633.93 L156.07,633.06 L151.65,632 L147.36,630.75 L143.24,629.34 L139.31,627.75 L135.59,626.01 L132.1,624.12 L128.87,622.09 L125.91,619.94 L123.23,617.68 L120.86,615.32 L118.81,612.87 L117.09,610.35 L115.71,607.77 L114.67,605.15 L113.99,602.5 L113.66,599.84" fill="none" stroke="#555" stroke-width="0.9" />
<path d="M239.35,600.03 L239.05,602.79 L238.36,605.52 L237.29,608.2 L235.83,610.81 L234.01,613.35 L231.83,615.78 L229.31,618.11 L226.46,620.3 L223.29,622.36 L219.84,624.26 L216.11,626 L212.14,627.57 L207.95,628.95 L203.55,630.13 L198.99,631.12 L194.29,631.9 L189.47,632.47 L184.57,632.82 L179.62,632.96 L174.64,632.87 L169.68,632.57 L164.75,632.06 L159.89,631.33 L155.13,630.4 L150.5,629.26 L146.03,627.92 L141.74,626.4 L137.67,624.71 L133.82,622.84 L130.24,620.82 L126.95,618.66 L123.95,616.36 L121.27,613.96 L118.94,611.45 L116.95,608.85 L115.33,606.19 L114.08,603.47 L113.21,600.71 L112.74,597.94 L112.65,595.17" fill="none" stroke="#444" stroke-width="1" />
<ellipse cx="237.37" cy="603.11" rx="1.3" ry="1.3" fill="#ccc" stroke="#444" stroke-width="0.8"/>
<ellipse cx="235.71" cy="606.75" rx="1.3" ry="1.3" fill="#ccc" stroke="#444" stroke-width="0.8"/>
<ellipse cx="233.36" cy="610.25" rx="1.3" ry="1.3" fill="#ccc" stroke="#444" stroke-width="0.8"/>
<ellipse cx="230.35" cy="613.57" rx="1.3" ry="1.3" fill="#ccc" stroke="#444" stroke-width="0.8"/>
<ellipse cx="226.71" cy="616.67" rx="1.3" ry="1.3" fill="#ccc" stroke="#444" stroke-width="0.8"/>
<ellipse cx="222.49" cy="619.52" rx="1.3" ry="1.3" fill="#ccc" stroke="#444" stroke-width="0.8"/>
<ellipse cx="217.73" cy="622.08" rx="1.3" ry="1.3" fill="#ccc" stroke="#444" stroke-width="0.8"/>
<ellipse cx="212.49" cy="624.32" rx="1.3" ry="1.3" fill="#ccc" stroke="#444" stroke-width="0.8"/>
<ellipse cx="206.83" cy="626.22" rx="1.3" ry="1.3" fill="#ccc" stroke="#444" stroke-width="0.8"/>
<ellipse cx="200.82" cy="627.76" rx="1.3" ry="1.3" fill="#ccc" stroke="#444" stroke-width="0.8"/>
<ellipse cx="194.52" cy="628.91" rx="1.3" ry="1.3" fill="#ccc" stroke="#444" stroke-width="0.8"/>
<ellipse cx="188.01" cy="629.67" rx="1.3" ry="1.3" fill="#ccc" stroke="#444" stroke-width="0.8"/>
<ellipse cx="181.35" cy="630.03" rx="1.3" ry="1.3" fill="#ccc" stroke="#444" stroke-width="0.8"/>
<ellipse cx="174.64" cy="629.97" rx="1.3" ry="1.3" fill="#ccc" stroke="#444" stroke-width="0.8"/>
<ellipse cx="167.94" cy="629.51" rx="1.3" ry="1.3" fill="#ccc" stroke="#444" stroke-width="0.8"/>
<ellipse cx="161.34" cy="628.65" rx="1.3" ry="1.3" fill="#ccc" stroke="#444" stroke-width="0.8"/>
<ellipse cx="154.9" cy="627.39" rx="1.3" ry="1.3" fill="#ccc" stroke="#444" stroke-width="0.8"/>
<ellipse cx="148.71" cy="625.76" rx="1.3" ry="1.3" fill="#ccc" stroke="#444" stroke-width="0.8"/>
<ellipse cx="142.83" cy="623.77" rx="1.3" ry="1.3" fill="#ccc" stroke="#444" stroke-width="0.8"/>
<ellipse cx="137.33" cy="621.44" rx="1.3" ry="1.3" fill="#ccc" stroke="#444" stroke-width="0.8"/>
<ellipse cx="132.28" cy="618.8" rx="1.3" ry="1.3" fill="#ccc" stroke="#444" stroke-width="0.8"/>
<ellipse cx="127.74" cy="615.88" rx="1.3" ry="1.3" fill="#ccc" stroke="#444" stroke-width="0.8"/>
<ellipse cx="123.75" cy="612.72" rx="1.3" ry="1.3" fill="#ccc" stroke="#444" stroke-width="0.8"/>
<ellipse cx="120.36" cy="609.35" rx="1.3" ry="1.3" fill="#ccc" stroke="#444" stroke-width="0.8"/>
<ellipse cx="117.61" cy="605.8" rx="1.3" ry="1.3" fill="#ccc" stroke="#444" stroke-width="0.8"/>
<ellipse cx="115.54" cy="602.13" rx="1.3" ry="1.3" fill="#ccc" stroke="#444" stroke-width="0.8"/>
<ellipse cx="114.16" cy="598.38" rx="1.3" ry="1.3" fill="#ccc" stroke="#444" stroke-width="0.8"/>
<line x1="112.05" y1="586.54" x2="112.55" y2="595.14" stroke="#444" stroke-width="1.1"/>
<line x1="239.95" y1="591.46" x2="239.45" y2="600.06" stroke="#444" stroke-width="1.1"/>
<path d="M239.95,593.66 L239.65,596.42 L238.95,599.16 L237.87,601.85 L236.4,604.47 L234.56,607.01 L232.37,609.45 L229.82,611.78 L226.94,613.98 L223.75,616.04 L220.26,617.95 L216.5,619.69 L212.49,621.26 L208.26,622.64 L203.82,623.83 L199.22,624.82 L194.47,625.6 L189.61,626.17 L184.66,626.52 L179.66,626.66 L174.64,626.57 L169.63,626.27 L164.65,625.75 L159.75,625.02 L154.95,624.08 L150.27,622.94 L145.76,621.6 L141.43,620.08 L137.31,618.37 L133.43,616.5 L129.82,614.48 L126.49,612.31 L123.46,610 L120.76,607.59 L118.4,605.07 L116.4,602.47 L114.76,599.79 L113.5,597.07 L112.62,594.31 L112.14,591.53 L112.05,588.74" fill="none" stroke="#444" stroke-width="1.1" />
<ellipse cx="176" cy="589" rx="64" ry="35.4" fill="#fff" stroke="#333" stroke-width="1.3" transform="rotate(2.2 176 589)"/>
<clipPath id="clipB"><ellipse cx="176.2" cy="589.2" rx="34.5" ry="20" transform="rotate(2.2 176.2 589.2)"/></clipPath>
<g clip-path="url(#clipB)">
<ellipse cx="175.7" cy="598.7" rx="33.5" ry="19.6" fill="none" stroke="#444" stroke-width="1.2" transform="rotate(2.2 175.7 598.7)"/>
<ellipse cx="175.7" cy="596.8" rx="33.8" ry="19.6" fill="none" stroke="#666" stroke-width="0.8" transform="rotate(2.2 175.7 596.8)"/>
<ellipse cx="145" cy="585.29" rx="0.8" ry="0.8" fill="#777" stroke="#444" stroke-width="0.6"/>
<ellipse cx="150.1" cy="580.26" rx="0.8" ry="0.8" fill="#777" stroke="#444" stroke-width="0.6"/>
<ellipse cx="157.62" cy="576.42" rx="0.8" ry="0.8" fill="#777" stroke="#444" stroke-width="0.6"/>
<ellipse cx="166.85" cy="574.13" rx="0.8" ry="0.8" fill="#777" stroke="#444" stroke-width="0.6"/>
<ellipse cx="176.95" cy="573.61" rx="0.8" ry="0.8" fill="#777" stroke="#444" stroke-width="0.6"/>
<ellipse cx="186.98" cy="574.91" rx="0.8" ry="0.8" fill="#777" stroke="#444" stroke-width="0.6"/>
<ellipse cx="196.02" cy="577.89" rx="0.8" ry="0.8" fill="#777" stroke="#444" stroke-width="0.6"/>
<ellipse cx="203.22" cy="582.3" rx="0.8" ry="0.8" fill="#777" stroke="#444" stroke-width="0.6"/>
<ellipse cx="207.91" cy="587.71" rx="0.8" ry="0.8" fill="#777" stroke="#444" stroke-width="0.6"/>
</g>
<ellipse cx="176.2" cy="589.2" rx="34.5" ry="20" fill="none" stroke="#444" stroke-width="1.3" transform="rotate(2.2 176.2 589.2)"/>
<path d="M142.82,588.92 L142.99,587.42 L143.35,585.93 L143.92,584.47 L144.69,583.05 L145.65,581.67 L146.8,580.35 L148.13,579.08 L149.63,577.89 L151.3,576.76 L153.12,575.73 L155.08,574.78 L157.18,573.92 L159.39,573.17 L161.7,572.52 L164.11,571.98 L166.59,571.56 L169.13,571.24 L171.71,571.05 L174.32,570.97 L176.94,571.01 L179.55,571.17 L182.15,571.45 L184.71,571.84 L187.21,572.35 L189.65,572.97 L192.01,573.69 L194.27,574.51 L196.41,575.43 L198.44,576.44 L200.32,577.54 L202.06,578.71 L203.63,579.96 L205.04,581.27 L206.27,582.63 L207.32,584.04 L208.17,585.49 L208.83,586.97 L209.28,588.47 L209.53,589.97 L209.58,591.48" fill="none" stroke="#555" stroke-width="0.8" />
<path d="M201.41,570.18 Q199.8,571.4 201.44,572.36 L206.36,575.24 Q208,576.2 209.68,575.05 L220.32,567.75 Q222,566.6 220.24,565.52 L214.96,562.28 Q213.2,561.2 211.59,562.42 Z" fill="#fff" stroke="#333" stroke-width="1" />
<line x1="200.87" y1="570.58" x2="212.53" y2="561.71" stroke="#222" stroke-width="1.5"/>
<line x1="203.48" y1="571.39" x2="214.45" y2="563.25" stroke="#666" stroke-width="0.7"/>
<line x1="205.13" y1="572.37" x2="216.2" y2="564.33" stroke="#666" stroke-width="0.7"/>
<line x1="207.2" y1="573.59" x2="218.39" y2="565.66" stroke="#666" stroke-width="0.7"/>
<line x1="206.5" y1="571.38" x2="210.83" y2="573.94" stroke="#555" stroke-width="0.8"/>
<line x1="208.41" y1="569.99" x2="212.79" y2="572.59" stroke="#555" stroke-width="0.8"/>
<path d="M133.1,609.87 Q131.5,611 133.2,612.08 L138.3,615.32 Q140,616.4 141.58,615.27 L151.62,608.13 Q153.2,607 151.52,605.92 L146.48,602.68 Q144.8,601.6 143.2,602.73 Z" fill="#fff" stroke="#333" stroke-width="1" />
<line x1="132.56" y1="610.25" x2="144.14" y2="602.07" stroke="#222" stroke-width="1.5"/>
<line x1="135.22" y1="611.22" x2="145.97" y2="603.61" stroke="#666" stroke-width="0.7"/>
<line x1="136.92" y1="612.3" x2="147.65" y2="604.69" stroke="#666" stroke-width="0.7"/>
<line x1="139.04" y1="613.65" x2="149.75" y2="606.04" stroke="#666" stroke-width="0.7"/>
<line x1="138.24" y1="611.36" x2="142.65" y2="614.17" stroke="#555" stroke-width="0.8"/>
<line x1="140.1" y1="610.05" x2="144.5" y2="612.85" stroke="#555" stroke-width="0.8"/>
</g>
<g transform="translate(660.5 676) scale(-1.0000 1.0000) translate(-176 -682.5)">
<path d="M251.93,701.96 L251.94,705.36 L251.47,708.76 L250.51,712.13 L249.07,715.45 L247.16,718.7 L244.79,721.86 L241.98,724.91 L238.74,727.82 L235.1,730.59 L231.08,733.19 L226.7,735.6 L222,737.81 L217,739.81 L211.73,741.58 L206.24,743.11 L200.55,744.39 L194.7,745.42 L188.73,746.18 L182.68,746.67 L176.59,746.9 L170.5,746.84 L164.43,746.52 L158.45,745.93 L152.57,745.06 L146.85,743.94 L141.32,742.56 L136.01,740.94 L130.95,739.08 L126.19,737 L121.75,734.71 L117.65,732.23 L113.94,729.57 L110.62,726.74 L107.72,723.78 L105.27,720.68 L103.27,717.49 L101.73,714.21 L100.68,710.87 L100.11,707.48 L100.03,704.08" fill="none" stroke="#444" stroke-width="1.1" />
<path d="M251.85,701.4 L251.28,704.57 L250.29,707.71 L248.88,710.81 L247.06,713.84 L244.84,716.79 L242.24,719.65 L239.26,722.39 L235.92,725 L232.25,727.47 L228.26,729.78 L223.98,731.92 L219.42,733.88 L214.62,735.65 L209.61,737.21 L204.4,738.56 L199.04,739.69 L193.54,740.59 L187.95,741.26 L182.29,741.7 L176.59,741.9 L170.89,741.86 L165.22,741.58 L159.61,741.06 L154.09,740.31 L148.7,739.33 L143.46,738.13 L138.4,736.71 L133.56,735.08 L128.95,733.25 L124.61,731.23 L120.55,729.03 L116.81,726.67 L113.41,724.15 L110.35,721.49 L107.67,718.71 L105.36,715.82 L103.46,712.84 L101.97,709.78 L100.89,706.67 L100.23,703.52" fill="none" stroke="#444" stroke-width="1" />
<path d="M112.2,685.92 Q103.5,691.49 100.01,703.06" fill="none" stroke="#444" stroke-width="1.1" />
<path d="M237.88,684.17 Q247.53,689.55 251.99,700.94" fill="none" stroke="#444" stroke-width="1.1" />
<path d="M223.63,658.85 L229.17,663.37 L233.44,668.33 L236.35,673.63 L237.81,679.14 L237.81,684.73 L236.33,690.26 L233.42,695.61 L229.15,700.65 L223.6,705.27 L216.92,709.36 L209.25,712.82 L200.79,715.56 L191.72,717.54 L182.26,718.69 L172.62,719 L163.05,718.45 L153.75,717.06 L144.95,714.86 L136.86,711.91 L129.66,708.26 L123.52,704.01 L118.58,699.26 L114.97,694.12 L112.76,688.7 L112,683.14 L112.73,677.56 L114.91,672.1 L118.49,666.89 L123.4,662.04 L129.52,657.66 L136.7,653.87 L144.78,650.75 L153.57,648.37 L162.86,646.79 L172.43,646.05 L182.06,646.16 L191.53,647.12 L200.61,648.91 L209.09,651.49 L216.77,654.79" fill="none" stroke="#383838" stroke-width="1.4" />
<path d="M222.79,662.75 L227.76,667.03 L231.53,671.71 L234,676.66 L235.13,681.79 L234.87,686.96 L233.25,692.07 L230.3,696.99 L226.08,701.61 L220.69,705.84 L214.26,709.56 L206.93,712.69 L198.86,715.17 L190.25,716.94 L181.3,717.96 L172.2,718.19 L163.16,717.65 L154.39,716.33 L146.1,714.27 L138.46,711.53 L131.67,708.15 L125.86,704.22 L121.18,699.83 L117.73,695.07 L115.59,690.06 L114.81,684.92 L115.4,679.75 L117.36,674.68 L120.64,669.82 L125.17,665.29 L130.83,661.18 L137.5,657.6 L145.03,654.62 L153.25,652.31 L161.97,650.73 L170.98,649.91 L180.08,649.87 L189.07,650.61 L197.74,652.12 L205.89,654.35 L213.33,657.26" fill="none" stroke="#383838" stroke-width="1.4" />
<path d="M222.14,667.46 L226.24,671.44 L229.2,675.72 L230.96,680.21 L231.49,684.81 L230.77,689.4 L228.82,693.91 L225.68,698.21 L221.41,702.22 L216.13,705.85 L209.93,709.03 L202.96,711.67 L195.37,713.72 L187.34,715.13 L179.03,715.88 L170.63,715.95 L162.33,715.34 L154.31,714.05 L146.74,712.12 L139.8,709.59 L133.64,706.52 L128.39,702.98 L124.17,699.03 L121.08,694.78 L119.17,690.31 L118.5,685.72 L119.08,681.12 L120.9,676.6 L123.91,672.27 L128.04,668.22 L133.22,664.54 L139.32,661.31 L146.21,658.61 L153.73,656.49 L161.73,655 L170.01,654.17 L178.41,654.02 L186.73,654.56 L194.8,655.77 L202.42,657.63 L209.44,660.09" fill="none" stroke="#383838" stroke-width="1.7" />
<path d="M232.21,692.58 L231.28,694.75 L230.1,696.87 L228.65,698.96 L226.96,700.98 L225.03,702.94 L222.86,704.82 L220.48,706.62 L217.88,708.32 L215.08,709.92 L212.1,711.42 L208.95,712.8 L205.64,714.06 L202.19,715.19 L198.61,716.19 L194.92,717.05 L191.14,717.78 L187.29,718.35 L183.38,718.78 L179.43,719.07 L175.46,719.2 L171.48,719.18 L167.53,719.01 L163.6,718.68 L159.74,718.22 L155.94,717.6 L152.23,716.84 L148.62,715.94 L145.14,714.9 L141.8,713.74 L138.61,712.45 L135.58,711.03 L132.74,709.51 L130.1,707.88 L127.66,706.15 L125.45,704.33 L123.46,702.42 L121.71,700.45 L120.21,698.41 L118.96,696.31 L117.98,694.17" fill="none" stroke="#444" stroke-width="1" />
<path d="M216.8,655.4 C216,658 217.6,660.4 220.4,659.6" fill="none" stroke="#444" stroke-width="0.9" />
<path d="M222.6,658.4 C221,660.4 221.4,662.4 222.8,663.6" fill="none" stroke="#444" stroke-width="0.9" />
<ellipse cx="175.5" cy="688.5" rx="42.5" ry="23.5" fill="none" stroke="#383838" stroke-width="1.5" transform="rotate(-0.8 175.5 688.5)"/>
<ellipse cx="175.3" cy="688.2" rx="40" ry="21.6" fill="none" stroke="#444" stroke-width="0.9" transform="rotate(-0.8 175.3 688.2)"/>
<path d="M215.55,697.98 L214.6,699.33 L213.51,700.64 L212.28,701.91 L210.91,703.15 L209.41,704.33 L207.79,705.47 L206.04,706.55 L204.18,707.57 L202.21,708.52 L200.14,709.41 L197.98,710.23 L195.74,710.97 L193.42,711.64 L191.04,712.22 L188.59,712.73 L186.1,713.16 L183.57,713.5 L181,713.75 L178.42,713.92 L175.83,714 L173.23,713.99 L170.65,713.89 L168.08,713.71 L165.54,713.44 L163.03,713.09 L160.58,712.65 L158.18,712.13 L155.84,711.53 L153.58,710.85 L151.39,710.09 L149.3,709.26 L147.31,708.36 L145.42,707.39 L143.64,706.36 L141.99,705.28 L140.45,704.13 L139.05,702.94 L137.78,701.7 L136.66,700.41 L135.68,699.09" fill="none" stroke="#444" stroke-width="0.9" />
<ellipse cx="176" cy="684.5" rx="36" ry="17.5" fill="none" stroke="#383838" stroke-width="1.6" transform="rotate(-0.8 176 684.5)"/>
<ellipse cx="176" cy="684.8" rx="34" ry="16" fill="none" stroke="#444" stroke-width="0.9" transform="rotate(-0.8 176 684.8)"/>
<path d="M176,668.5 C184,671 200,680 206.5,688 C198,686 184,678 178.5,671.5 C177,670 176,669 176,668.5 Z" fill="none" stroke="#444" stroke-width="1" />
<path d="M145,688.5 C152,689.5 164,695 170,700.5 C162,699.5 150,693.5 145,688.5 Z" fill="none" stroke="#444" stroke-width="1" />
<ellipse cx="177" cy="667.6" rx="1.6" ry="1.2" fill="none" stroke="#444" stroke-width="0.8"/>
<path d="M144,706.5 L146,708.8 L148.6,707.6" fill="none" stroke="#444" stroke-width="0.8" />
</g>
<path d="M631.4,820.6 L622.5,828 L622.5,835 L660,857 L709.5,828.5 L709.5,821.5 L700,817" fill="none" stroke="#444" stroke-width="1.1" />
<path d="M622.5,828 L660.5,849 L669.6,843.4" fill="none" stroke="#444" stroke-width="1" />
<line x1="660.3" y1="849" x2="660" y2="857" stroke="#444" stroke-width="1"/>
<path d="M624.6,826.4 L662.4,847.6" fill="none" stroke="#666" stroke-width="0.8" />
<path d="M631.4,821 L669.6,842.6" fill="none" stroke="#444" stroke-width="1.3" />
<path d="M709.5,821.5 L700,824.5 L700,817" fill="none" stroke="#444" stroke-width="1" />
<line x1="669.6" y1="843.4" x2="700" y2="824.5" stroke="#444" stroke-width="1"/>
<ellipse cx="635" cy="827.2" rx="2.9" ry="1.9" fill="none" stroke="#444" stroke-width="0.9" transform="rotate(8 635 827.2)"/>
<ellipse cx="658.7" cy="840.8" rx="2.9" ry="1.9" fill="none" stroke="#444" stroke-width="0.9" transform="rotate(8 658.7 840.8)"/>
<path d="M632.8,794.2 L631.5,821" fill="none" stroke="#444" stroke-width="1.1" />
<path d="M634.4,795.4 L633.2,821.6" fill="none" stroke="#777" stroke-width="0.7" />
<line x1="669.9" y1="814.6" x2="669.7" y2="843.2" stroke="#444" stroke-width="1.1"/>
<line x1="698.8" y1="799" x2="698.6" y2="824.6" stroke="#444" stroke-width="1.1"/>
<path d="M645,788 L632.8,794.2 L669.9,814.6 L698.8,799 L678,788.2" fill="none" stroke="#444" stroke-width="1.1" />
<ellipse cx="679" cy="803.8" rx="2.2" ry="1.5" fill="none" stroke="#444" stroke-width="0.9" transform="rotate(10 679 803.8)"/>
<ellipse cx="684.8" cy="825.2" rx="11.9" ry="16.9" fill="#fff" stroke="#444" stroke-width="1.4" transform="rotate(20 684.8 825.2)"/>
<clipPath id="clip53"><ellipse cx="684.8" cy="825.2" rx="11.9" ry="16.9" transform="rotate(20 684.8 825.2)"/></clipPath>
<g clip-path="url(#clip53)">
<path d="M677.14,839.3 L676.62,838.67 L676.14,837.98 L675.71,837.24 L675.33,836.45 L674.99,835.61 L674.71,834.73 L674.47,833.81 L674.28,832.86 L674.15,831.87 L674.07,830.86 L674.04,829.82 L674.07,828.77 L674.15,827.7 L674.28,826.63 L674.47,825.55 L674.71,824.48 L674.99,823.4 L675.33,822.34 L675.72,821.3 L676.15,820.27 L676.62,819.27 L677.14,818.3 L677.7,817.36 L678.29,816.46 L678.92,815.59 L679.58,814.78 L680.27,814.01 L680.99,813.29 L681.73,812.63 L682.49,812.03 L683.26,811.49 L684.05,811.01 L684.85,810.59 L685.65,810.24 L686.46,809.96 L687.26,809.75 L688.06,809.61 L688.85,809.55 L689.63,809.55 L690.4,809.62" fill="none" stroke="#666" stroke-width="1" />
<path d="M679.44,840.49 L678.89,839.95 L678.38,839.35 L677.91,838.69 L677.48,837.97 L677.1,837.2 L676.77,836.39 L676.48,835.53 L676.24,834.63 L676.06,833.69 L675.92,832.72 L675.84,831.72 L675.81,830.7 L675.83,829.66 L675.9,828.6 L676.03,827.54 L676.21,826.47 L676.44,825.4 L676.71,824.33 L677.04,823.27 L677.42,822.23 L677.83,821.21 L678.3,820.21 L678.8,819.23 L679.35,818.29 L679.93,817.38 L680.54,816.52 L681.19,815.7 L681.86,814.92 L682.56,814.2 L683.28,813.53 L684.02,812.92 L684.78,812.37 L685.55,811.88 L686.33,811.46 L687.12,811.1 L687.9,810.81 L688.69,810.59 L689.47,810.44 L690.24,810.37 L691,810.36" fill="none" stroke="#888" stroke-width="1.6" />
<path d="M681.73,841.65 L681.16,841.19 L680.62,840.67 L680.12,840.09 L679.66,839.45 L679.24,838.75 L678.87,838 L678.55,837.19 L678.27,836.35 L678.04,835.45 L677.86,834.52 L677.73,833.56 L677.66,832.56 L677.63,831.54 L677.66,830.5 L677.74,829.44 L677.87,828.38 L678.05,827.3 L678.29,826.23 L678.57,825.15 L678.9,824.09 L679.27,823.04 L679.69,822.01 L680.15,821 L680.66,820.01 L681.2,819.06 L681.77,818.15 L682.38,817.27 L683.02,816.45 L683.69,815.66 L684.38,814.94 L685.09,814.26 L685.82,813.65 L686.57,813.09 L687.32,812.6 L688.09,812.18 L688.85,811.82 L689.62,811.53 L690.39,811.31 L691.15,811.17 L691.9,811.09" fill="none" stroke="#555" stroke-width="1.1" />
</g>
<path d="M678.6,793 L678.55,793.78 L678.39,794.55 L678.12,795.31 L677.76,796.06 L677.29,796.79 L676.73,797.49 L676.07,798.17 L675.32,798.82 L674.48,799.43 L673.56,800 L672.57,800.53 L671.51,801.01 L670.39,801.44 L669.21,801.82 L667.98,802.15 L666.72,802.42 L665.42,802.63 L664.09,802.78 L662.75,802.87 L661.4,802.9 L660.05,802.87 L658.71,802.78 L657.38,802.63 L656.08,802.42 L654.82,802.15 L653.59,801.82 L652.41,801.44 L651.29,801.01 L650.23,800.53 L649.24,800 L648.32,799.43 L647.48,798.82 L646.73,798.17 L646.07,797.49 L645.51,796.79 L645.04,796.06 L644.68,795.31 L644.41,794.55 L644.25,793.78 L644.2,793" fill="#fff" stroke="#444" stroke-width="1.2" />
<rect x="644.2" y="781.6" width="34.4" height="11.6" fill="#fff"/>
<line x1="644.2" y1="781.6" x2="644.2" y2="793" stroke="#444" stroke-width="1.1"/>
<line x1="678.6" y1="781.6" x2="678.6" y2="793" stroke="#444" stroke-width="1.1"/>
<ellipse cx="661.4" cy="781.4" rx="17.2" ry="9.9" fill="#fff" stroke="#444" stroke-width="1.3"/>
<ellipse cx="661" cy="781.6" rx="15" ry="8.2" fill="none" stroke="#2a2a2a" stroke-width="1.9"/>
<path d="M671.2,775.6 C668,778 668.6,783.4 672.4,785.4 C675.6,784 676.6,779.6 674.6,776.6" fill="#fff" stroke="#2a2a2a" stroke-width="1.3" />
<path d="M672.6,777.6 C670.8,779.4 671.2,782.4 673.2,783.6" fill="none" stroke="#666" stroke-width="0.8" />
<path d="M724.06,830.27 L723.34,830.05 L722.6,829.92 L721.82,829.89 L721.01,829.97 L720.19,830.15 L719.34,830.43 L718.49,830.81 L717.63,831.28 L716.76,831.85 L715.91,832.51 L715.06,833.26 L714.23,834.08 L713.42,834.99 L712.63,835.96 L711.87,837 L711.15,838.1 L710.47,839.25 L709.83,840.45 L709.23,841.68 L708.69,842.94 L708.2,844.23 L707.77,845.52 L707.4,846.83 L707.1,848.13 L706.85,849.42 L706.68,850.7 L706.56,851.94 L706.52,853.16 L706.54,854.33 L706.64,855.46 L706.79,856.53 L707.02,857.54 L707.31,858.48 L707.66,859.34 L708.07,860.13 L708.54,860.83 L709.07,861.45 L709.65,861.97 L710.27,862.4 L710.94,862.73" fill="none" stroke="#444" stroke-width="1.1" />
<line x1="724.06" y1="830.27" x2="732.06" y2="833.57" stroke="#444" stroke-width="1"/>
<line x1="710.94" y1="862.73" x2="715.94" y2="864.83" stroke="#444" stroke-width="1"/>
<path d="M736.4,830.8 L730.8,833.2 L723.2,839.2 L716,851.2 L714.6,866.8 L775.2,902.8 L778.8,910.8 L794.8,920.4 L822.4,904.4 L822,873.6 L805.6,863.6 L800,864.6 L796,865.4 L791.2,863.8 Z" fill="#fff" stroke="#444" stroke-width="1.2" />
<path d="M736.4,830.8 L791.2,863.8" fill="none" stroke="#222" stroke-width="1.6" />
<path d="M714.6,866.8 L775.2,902.8 L778.8,910.8 L794.8,920.4" fill="none" stroke="#222" stroke-width="1.5" />
<path d="M723.2,839.2 L781.9,873.9 L776.3,883.7 L716,851.2" fill="none" stroke="#444" stroke-width="1" />
<path d="M794.8,920.4 L794.8,888.4 L822,873.6" fill="none" stroke="#444" stroke-width="1.2" />
<path d="M796.2,890 L796.2,919.2" fill="none" stroke="#666" stroke-width="0.7" />
<path d="M796,890.2 L821.6,876" fill="none" stroke="#666" stroke-width="0.7" />
<path d="M794.8,888.4 L780,879.6" fill="none" stroke="#444" stroke-width="1" />
<ellipse cx="808.8" cy="869" rx="2.4" ry="1.6" fill="none" stroke="#444" stroke-width="0.9" transform="rotate(8 808.8 869)"/>
<ellipse cx="788" cy="880.8" rx="2.4" ry="1.6" fill="none" stroke="#444" stroke-width="0.9" transform="rotate(8 788 880.8)"/>
<ellipse cx="809.2" cy="896.8" rx="7.8" ry="10.6" fill="none" stroke="#444" stroke-width="1.5" transform="rotate(24 809.2 896.8)"/>
<path d="M801.6,901.4 C803.4,900.6 804.2,902 803.2,903.2" fill="none" stroke="#444" stroke-width="0.8" />
</g>
<g id="leaders" style="mix-blend-mode:multiply;filter:blur(0.35px)">
<line x1="372.3" y1="53.5" x2="237.39" y2="57.58" stroke="#111" stroke-width="1.7"/>
<polygon points="223.6,58 239.27,53.32 239.52,61.72" fill="#111"/>
<text transform="translate(348.2 45.65) scale(0.2986 0.3464)" font-size="100" fill="#111">41</text>
<line x1="354.2" y1="118" x2="248.2" y2="150.37" stroke="#111" stroke-width="1.7"/>
<polygon points="235,154.4 248.88,145.77 251.34,153.8" fill="#111"/>
<line x1="354.2" y1="118" x2="374.6" y2="118" stroke="#111" stroke-width="1.7"/>
<text transform="translate(347.55 115.45) scale(0.3217 0.3300)" font-size="100" fill="#111">42</text>
<line x1="372.5" y1="295" x2="216.4" y2="296.47" stroke="#111" stroke-width="1.7"/>
<polygon points="202.6,296.6 218.36,292.25 218.44,300.65" fill="#111"/>
<text transform="translate(353.83 287.55) scale(0.3288 0.3343)" font-size="100" fill="#111">43</text>
<line x1="371.5" y1="448" x2="236.53" y2="421.01" stroke="#111" stroke-width="1.7"/>
<polygon points="223,418.3 239.32,417.28 237.67,425.52" fill="#111"/>
<line x1="371.5" y1="448" x2="391" y2="448" stroke="#111" stroke-width="1.7"/>
<text transform="translate(353.82 437.35) scale(0.3336 0.3435)" font-size="100" fill="#111">44</text>
<line x1="890.4" y1="54.6" x2="752.19" y2="58.6" stroke="#111" stroke-width="1.7"/>
<polygon points="738.4,59 754.07,54.34 754.31,62.74" fill="#111"/>
<text transform="translate(859.93 46.15) scale(0.3282 0.3391)" font-size="100" fill="#111">45</text>
<line x1="871.8" y1="120.4" x2="763.22" y2="153.03" stroke="#111" stroke-width="1.7"/>
<polygon points="750,157 763.92,148.43 766.34,156.48" fill="#111"/>
<line x1="871.8" y1="120.4" x2="892.2" y2="120.4" stroke="#111" stroke-width="1.7"/>
<text transform="translate(861.92 115.15) scale(0.3337 0.3343)" font-size="100" fill="#111">46</text>
<line x1="890.5" y1="300.8" x2="731.3" y2="302.09" stroke="#111" stroke-width="1.7"/>
<polygon points="717.5,302.2 733.27,297.87 733.33,306.27" fill="#111"/>
<text transform="translate(867.84 288.05) scale(0.3256 0.3391)" font-size="100" fill="#111">47</text>
<line x1="881" y1="458.5" x2="743.82" y2="430.46" stroke="#111" stroke-width="1.7"/>
<polygon points="730.3,427.7 746.62,426.75 744.94,434.98" fill="#111"/>
<line x1="881" y1="458.5" x2="901" y2="458.5" stroke="#111" stroke-width="1.7"/>
<text transform="translate(869.83 448.65) scale(0.3289 0.3406)" font-size="100" fill="#111">44</text>
<line x1="357.4" y1="607.4" x2="242.59" y2="604.19" stroke="#111" stroke-width="1.7"/>
<polygon points="228.8,603.8 244.71,600.04 244.48,608.44" fill="#111"/>
<text transform="translate(325.52 600.35) scale(0.3340 0.3343)" font-size="100" fill="#111">48</text>
<line x1="339.6" y1="671.8" x2="259.44" y2="690.47" stroke="#111" stroke-width="1.7"/>
<polygon points="246,693.6 260.44,685.93 262.34,694.11" fill="#111"/>
<line x1="339.6" y1="671.8" x2="357" y2="671.8" stroke="#111" stroke-width="1.7"/>
<text transform="translate(326.31 663.35) scale(0.3375 0.3343)" font-size="100" fill="#111">49</text>
<line x1="357.2" y1="827.2" x2="202.99" y2="820.87" stroke="#111" stroke-width="1.7"/>
<polygon points="189.2,820.3 205.16,816.75 204.81,825.14" fill="#111"/>
<text transform="translate(331.04 823.55) scale(0.3272 0.3343)" font-size="100" fill="#111">50</text>
<line x1="347" y1="964" x2="208.96" y2="937.68" stroke="#111" stroke-width="1.7"/>
<polygon points="195.4,935.1 211.71,933.93 210.13,942.18" fill="#111"/>
<line x1="347" y1="964" x2="364.5" y2="964" stroke="#111" stroke-width="1.7"/>
<text transform="translate(331.33 956.65) scale(0.3270 0.3406)" font-size="100" fill="#111">44</text>
<line x1="771" y1="580.3" x2="726.76" y2="583.58" stroke="#111" stroke-width="1.7"/>
<polygon points="713,584.6 728.45,579.24 729.07,587.62" fill="#111"/>
<line x1="771" y1="580.3" x2="789" y2="580.3" stroke="#111" stroke-width="1.7"/>
<text transform="translate(770.25 576.35) scale(0.2745 0.3435)" font-size="100" fill="#111">51</text>
<line x1="772" y1="690.2" x2="740.53" y2="699.49" stroke="#111" stroke-width="1.7"/>
<polygon points="727.3,703.4 741.26,694.9 743.64,702.95" fill="#111"/>
<line x1="772" y1="690.2" x2="789" y2="690.2" stroke="#111" stroke-width="1.7"/>
<text transform="translate(771.85 687.05) scale(0.3255 0.3343)" font-size="100" fill="#111">52</text>
<line x1="814.2" y1="753" x2="705.09" y2="792.14" stroke="#111" stroke-width="1.7"/>
<polygon points="692.1,796.8 705.55,787.51 708.39,795.42" fill="#111"/>
<text transform="translate(798.68 743.55) scale(0.3171 0.3343)" font-size="100" fill="#111">53</text>
<line x1="845.4" y1="794" x2="799.57" y2="853" stroke="#111" stroke-width="1.7"/>
<polygon points="791.1,863.9 797.48,848.85 804.11,854" fill="#111"/>
<line x1="845.4" y1="794" x2="861.8" y2="794" stroke="#111" stroke-width="1.7"/>
<text transform="translate(843.65 790.35) scale(0.3260 0.3391)" font-size="100" fill="#111">54</text>
</g>
<g id="captions" style="mix-blend-mode:multiply;filter:blur(0.35px)">
<text transform="translate(89.5 462) scale(0.1492 0.1871)" font-size="100" fill="#222">3,5 kW</text>
<text transform="translate(615.15 469.4) scale(0.1870 0.1814)" font-size="100" fill="#222">5 kW</text>
<text transform="translate(83.5 963.2) scale(0.1609 0.1609)" font-size="100" fill="#222">7 Kw</text>
<text transform="translate(610.2 921.8) scale(0.2451 0.2586)" font-size="100" fill="#222">9kW</text>
</g>
</svg>
</body></html>
